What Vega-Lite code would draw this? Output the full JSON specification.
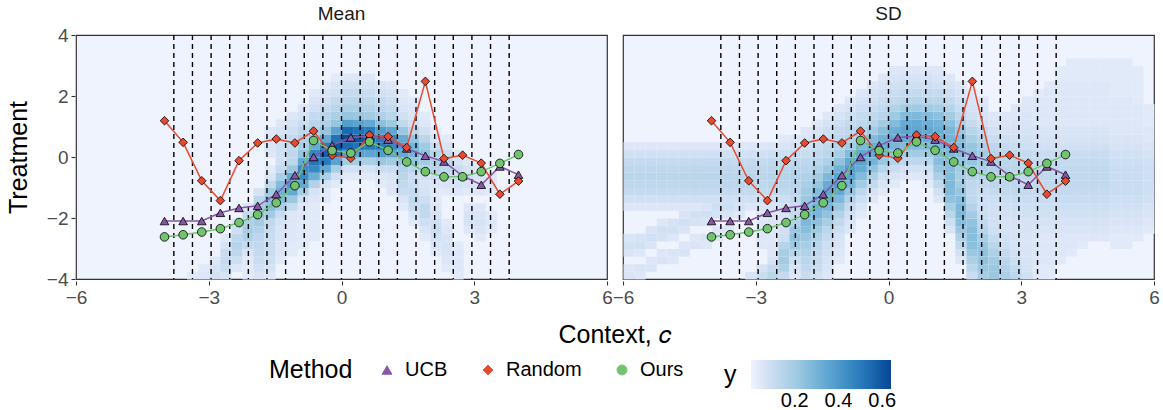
{
"$schema":"https://vega.github.io/schema/vega-lite/v6.json",
"padding":{"left":6,"top":5,"right":2,"bottom":0},
"config":{
"font":"Liberation Sans",
"view":{"fill":"#eef3fe","stroke":"#333333","strokeWidth":1.2},
"axis":{"grid":false,"domain":false,"ticks":true,"tickColor":"#333333","tickSize":4,"tickWidth":1.1,"labelFontSize":19,"labelColor":"#4D4D4D","labelPadding":3,"labelFlush":false,"labelOverlap":false,"labelBound":false,"titleFontSize":25,"titleFontWeight":"normal","titleColor":"black","format":"d"},
"legend":{"orient":"bottom","direction":"horizontal","titleOrient":"left","titleFontSize":25,"titleFontWeight":"normal","titleColor":"black","labelFontSize":20,"labelColor":"black","offset":12,"layout":{"bottom":{"anchor":"middle","direction":"horizontal","margin":40}}}
},
"data":{"values":[
{"p":"Mean","m":"UCB","x":-4,"y":-2.1},{"p":"Mean","m":"UCB","x":-3.579,"y":-2.1},{"p":"Mean","m":"UCB","x":-3.158,"y":-2.1},{"p":"Mean","m":"UCB","x":-2.737,"y":-1.83},{"p":"Mean","m":"UCB","x":-2.316,"y":-1.67},{"p":"Mean","m":"UCB","x":-1.895,"y":-1.6},{"p":"Mean","m":"UCB","x":-1.474,"y":-1.22},{"p":"Mean","m":"UCB","x":-1.053,"y":-0.6},{"p":"Mean","m":"UCB","x":-0.632,"y":0.0},{"p":"Mean","m":"UCB","x":-0.211,"y":0.38},{"p":"Mean","m":"UCB","x":0.211,"y":0.64},{"p":"Mean","m":"UCB","x":0.632,"y":0.68},{"p":"Mean","m":"UCB","x":1.053,"y":0.57},{"p":"Mean","m":"UCB","x":1.474,"y":0.28},{"p":"Mean","m":"UCB","x":1.895,"y":0.04},{"p":"Mean","m":"UCB","x":2.316,"y":-0.15},{"p":"Mean","m":"UCB","x":2.737,"y":-0.62},{"p":"Mean","m":"UCB","x":3.158,"y":-0.91},{"p":"Mean","m":"UCB","x":3.579,"y":-0.31},{"p":"Mean","m":"UCB","x":4,"y":-0.58},
{"p":"Mean","m":"Random","x":-4,"y":1.19},{"p":"Mean","m":"Random","x":-3.579,"y":0.48},{"p":"Mean","m":"Random","x":-3.158,"y":-0.78},{"p":"Mean","m":"Random","x":-2.737,"y":-1.43},{"p":"Mean","m":"Random","x":-2.316,"y":-0.12},{"p":"Mean","m":"Random","x":-1.895,"y":0.46},{"p":"Mean","m":"Random","x":-1.474,"y":0.59},{"p":"Mean","m":"Random","x":-1.053,"y":0.46},{"p":"Mean","m":"Random","x":-0.632,"y":0.85},{"p":"Mean","m":"Random","x":-0.211,"y":0.06},{"p":"Mean","m":"Random","x":0.211,"y":-0.04},{"p":"Mean","m":"Random","x":0.632,"y":0.72},{"p":"Mean","m":"Random","x":1.053,"y":0.67},{"p":"Mean","m":"Random","x":1.474,"y":0.31},{"p":"Mean","m":"Random","x":1.895,"y":2.48},{"p":"Mean","m":"Random","x":2.316,"y":-0.05},{"p":"Mean","m":"Random","x":2.737,"y":0.06},{"p":"Mean","m":"Random","x":3.158,"y":-0.2},{"p":"Mean","m":"Random","x":3.579,"y":-1.22},{"p":"Mean","m":"Random","x":4,"y":-0.79},
{"p":"Mean","m":"Ours","x":-4,"y":-2.62},{"p":"Mean","m":"Ours","x":-3.579,"y":-2.55},{"p":"Mean","m":"Ours","x":-3.158,"y":-2.46},{"p":"Mean","m":"Ours","x":-2.737,"y":-2.35},{"p":"Mean","m":"Ours","x":-2.316,"y":-2.15},{"p":"Mean","m":"Ours","x":-1.895,"y":-1.89},{"p":"Mean","m":"Ours","x":-1.474,"y":-1.5},{"p":"Mean","m":"Ours","x":-1.053,"y":-0.94},{"p":"Mean","m":"Ours","x":-0.632,"y":0.54},{"p":"Mean","m":"Ours","x":-0.211,"y":0.21},{"p":"Mean","m":"Ours","x":0.211,"y":0.13},{"p":"Mean","m":"Ours","x":0.632,"y":0.5},{"p":"Mean","m":"Ours","x":1.053,"y":0.22},{"p":"Mean","m":"Ours","x":1.474,"y":-0.16},{"p":"Mean","m":"Ours","x":1.895,"y":-0.48},{"p":"Mean","m":"Ours","x":2.316,"y":-0.65},{"p":"Mean","m":"Ours","x":2.737,"y":-0.65},{"p":"Mean","m":"Ours","x":3.158,"y":-0.48},{"p":"Mean","m":"Ours","x":3.579,"y":-0.21},{"p":"Mean","m":"Ours","x":4,"y":0.08},
{"p":"SD","m":"UCB","x":-4,"y":-2.1},{"p":"SD","m":"UCB","x":-3.579,"y":-2.1},{"p":"SD","m":"UCB","x":-3.158,"y":-2.1},{"p":"SD","m":"UCB","x":-2.737,"y":-1.83},{"p":"SD","m":"UCB","x":-2.316,"y":-1.67},{"p":"SD","m":"UCB","x":-1.895,"y":-1.6},{"p":"SD","m":"UCB","x":-1.474,"y":-1.22},{"p":"SD","m":"UCB","x":-1.053,"y":-0.6},{"p":"SD","m":"UCB","x":-0.632,"y":0.0},{"p":"SD","m":"UCB","x":-0.211,"y":0.38},{"p":"SD","m":"UCB","x":0.211,"y":0.64},{"p":"SD","m":"UCB","x":0.632,"y":0.68},{"p":"SD","m":"UCB","x":1.053,"y":0.57},{"p":"SD","m":"UCB","x":1.474,"y":0.28},{"p":"SD","m":"UCB","x":1.895,"y":0.04},{"p":"SD","m":"UCB","x":2.316,"y":-0.15},{"p":"SD","m":"UCB","x":2.737,"y":-0.62},{"p":"SD","m":"UCB","x":3.158,"y":-0.91},{"p":"SD","m":"UCB","x":3.579,"y":-0.31},{"p":"SD","m":"UCB","x":4,"y":-0.58},
{"p":"SD","m":"Random","x":-4,"y":1.19},{"p":"SD","m":"Random","x":-3.579,"y":0.48},{"p":"SD","m":"Random","x":-3.158,"y":-0.78},{"p":"SD","m":"Random","x":-2.737,"y":-1.43},{"p":"SD","m":"Random","x":-2.316,"y":-0.12},{"p":"SD","m":"Random","x":-1.895,"y":0.46},{"p":"SD","m":"Random","x":-1.474,"y":0.59},{"p":"SD","m":"Random","x":-1.053,"y":0.46},{"p":"SD","m":"Random","x":-0.632,"y":0.85},{"p":"SD","m":"Random","x":-0.211,"y":0.06},{"p":"SD","m":"Random","x":0.211,"y":-0.04},{"p":"SD","m":"Random","x":0.632,"y":0.72},{"p":"SD","m":"Random","x":1.053,"y":0.67},{"p":"SD","m":"Random","x":1.474,"y":0.31},{"p":"SD","m":"Random","x":1.895,"y":2.48},{"p":"SD","m":"Random","x":2.316,"y":-0.05},{"p":"SD","m":"Random","x":2.737,"y":0.06},{"p":"SD","m":"Random","x":3.158,"y":-0.2},{"p":"SD","m":"Random","x":3.579,"y":-1.22},{"p":"SD","m":"Random","x":4,"y":-0.79},
{"p":"SD","m":"Ours","x":-4,"y":-2.62},{"p":"SD","m":"Ours","x":-3.579,"y":-2.55},{"p":"SD","m":"Ours","x":-3.158,"y":-2.46},{"p":"SD","m":"Ours","x":-2.737,"y":-2.35},{"p":"SD","m":"Ours","x":-2.316,"y":-2.15},{"p":"SD","m":"Ours","x":-1.895,"y":-1.89},{"p":"SD","m":"Ours","x":-1.474,"y":-1.5},{"p":"SD","m":"Ours","x":-1.053,"y":-0.94},{"p":"SD","m":"Ours","x":-0.632,"y":0.54},{"p":"SD","m":"Ours","x":-0.211,"y":0.21},{"p":"SD","m":"Ours","x":0.211,"y":0.13},{"p":"SD","m":"Ours","x":0.632,"y":0.5},{"p":"SD","m":"Ours","x":1.053,"y":0.22},{"p":"SD","m":"Ours","x":1.474,"y":-0.16},{"p":"SD","m":"Ours","x":1.895,"y":-0.48},{"p":"SD","m":"Ours","x":2.316,"y":-0.65},{"p":"SD","m":"Ours","x":2.737,"y":-0.65},{"p":"SD","m":"Ours","x":3.158,"y":-0.48},{"p":"SD","m":"Ours","x":3.579,"y":-0.21},{"p":"SD","m":"Ours","x":4,"y":0.08},
{"p":"Mean","r":-3.789},{"p":"Mean","r":-3.368},{"p":"Mean","r":-2.947},{"p":"Mean","r":-2.526},{"p":"Mean","r":-2.105},{"p":"Mean","r":-1.684},{"p":"Mean","r":-1.263},{"p":"Mean","r":-0.842},{"p":"Mean","r":-0.421},{"p":"Mean","r":0},{"p":"Mean","r":0.421},{"p":"Mean","r":0.842},{"p":"Mean","r":1.263},{"p":"Mean","r":1.684},{"p":"Mean","r":2.105},{"p":"Mean","r":2.526},{"p":"Mean","r":2.947},{"p":"Mean","r":3.368},{"p":"Mean","r":3.789},
{"p":"SD","r":-3.789},{"p":"SD","r":-3.368},{"p":"SD","r":-2.947},{"p":"SD","r":-2.526},{"p":"SD","r":-2.105},{"p":"SD","r":-1.684},{"p":"SD","r":-1.263},{"p":"SD","r":-0.842},{"p":"SD","r":-0.421},{"p":"SD","r":0},{"p":"SD","r":0.421},{"p":"SD","r":0.842},{"p":"SD","r":1.263},{"p":"SD","r":1.684},{"p":"SD","r":2.105},{"p":"SD","r":2.526},{"p":"SD","r":2.947},{"p":"SD","r":3.368},{"p":"SD","r":3.789},
{"p":"Mean","x":-3.5,"t":-4,"v":0.04},
{"p":"Mean","x":-3.25,"t":-4,"v":0.05},{"p":"Mean","x":-3.25,"t":-3.75,"v":0.04},
{"p":"Mean","x":-3,"t":-4,"v":0.08},{"p":"Mean","x":-3,"t":-3.75,"v":0.07},{"p":"Mean","x":-3,"t":-3.5,"v":0.05},
{"p":"Mean","x":-2.75,"t":-4,"v":0.07},{"p":"Mean","x":-2.75,"t":-3.75,"v":0.1},{"p":"Mean","x":-2.75,"t":-3.5,"v":0.11},{"p":"Mean","x":-2.75,"t":-3.25,"v":0.1},{"p":"Mean","x":-2.75,"t":-3,"v":0.07},{"p":"Mean","x":-2.75,"t":-2.75,"v":0.04},
{"p":"Mean","x":-2.5,"t":-3.75,"v":0.05},{"p":"Mean","x":-2.5,"t":-3.5,"v":0.09},{"p":"Mean","x":-2.5,"t":-3.25,"v":0.13},{"p":"Mean","x":-2.5,"t":-3,"v":0.15},{"p":"Mean","x":-2.5,"t":-2.75,"v":0.13},{"p":"Mean","x":-2.5,"t":-2.5,"v":0.09},{"p":"Mean","x":-2.5,"t":-2.25,"v":0.05},
{"p":"Mean","x":-2.25,"t":-4,"v":0.04},{"p":"Mean","x":-2.25,"t":-3.75,"v":0.04},{"p":"Mean","x":-2.25,"t":-3.5,"v":0.04},{"p":"Mean","x":-2.25,"t":-3.25,"v":0.06},{"p":"Mean","x":-2.25,"t":-3,"v":0.11},{"p":"Mean","x":-2.25,"t":-2.75,"v":0.17},{"p":"Mean","x":-2.25,"t":-2.5,"v":0.19},{"p":"Mean","x":-2.25,"t":-2.25,"v":0.17},{"p":"Mean","x":-2.25,"t":-2,"v":0.11},{"p":"Mean","x":-2.25,"t":-1.75,"v":0.06},
{"p":"Mean","x":-2,"t":-4,"v":0.06},{"p":"Mean","x":-2,"t":-3.75,"v":0.08},{"p":"Mean","x":-2,"t":-3.5,"v":0.1},{"p":"Mean","x":-2,"t":-3.25,"v":0.11},{"p":"Mean","x":-2,"t":-3,"v":0.12},{"p":"Mean","x":-2,"t":-2.75,"v":0.13},{"p":"Mean","x":-2,"t":-2.5,"v":0.16},{"p":"Mean","x":-2,"t":-2.25,"v":0.2},{"p":"Mean","x":-2,"t":-2,"v":0.23},{"p":"Mean","x":-2,"t":-1.75,"v":0.2},{"p":"Mean","x":-2,"t":-1.5,"v":0.14},{"p":"Mean","x":-2,"t":-1.25,"v":0.07},
{"p":"Mean","x":-1.75,"t":-4,"v":0.05},{"p":"Mean","x":-1.75,"t":-3.75,"v":0.07},{"p":"Mean","x":-1.75,"t":-3.5,"v":0.09},{"p":"Mean","x":-1.75,"t":-3.25,"v":0.1},{"p":"Mean","x":-1.75,"t":-3,"v":0.1},{"p":"Mean","x":-1.75,"t":-2.75,"v":0.1},{"p":"Mean","x":-1.75,"t":-2.5,"v":0.11},{"p":"Mean","x":-1.75,"t":-2.25,"v":0.12},{"p":"Mean","x":-1.75,"t":-2,"v":0.2},{"p":"Mean","x":-1.75,"t":-1.75,"v":0.26},{"p":"Mean","x":-1.75,"t":-1.5,"v":0.26},{"p":"Mean","x":-1.75,"t":-1.25,"v":0.2},{"p":"Mean","x":-1.75,"t":-1,"v":0.12},{"p":"Mean","x":-1.75,"t":-0.75,"v":0.06},{"p":"Mean","x":-1.75,"t":-0.5,"v":0.04},{"p":"Mean","x":-1.75,"t":0,"v":0.05},{"p":"Mean","x":-1.75,"t":0.25,"v":0.06},{"p":"Mean","x":-1.75,"t":0.5,"v":0.06},{"p":"Mean","x":-1.75,"t":0.75,"v":0.05},
{"p":"Mean","x":-1.5,"t":-3.5,"v":0.04},{"p":"Mean","x":-1.5,"t":-3.25,"v":0.05},{"p":"Mean","x":-1.5,"t":-3,"v":0.05},{"p":"Mean","x":-1.5,"t":-2.75,"v":0.06},{"p":"Mean","x":-1.5,"t":-2.5,"v":0.06},{"p":"Mean","x":-1.5,"t":-2.25,"v":0.07},{"p":"Mean","x":-1.5,"t":-2,"v":0.1},{"p":"Mean","x":-1.5,"t":-1.75,"v":0.19},{"p":"Mean","x":-1.5,"t":-1.5,"v":0.27},{"p":"Mean","x":-1.5,"t":-1.25,"v":0.31},{"p":"Mean","x":-1.5,"t":-1,"v":0.27},{"p":"Mean","x":-1.5,"t":-0.75,"v":0.19},{"p":"Mean","x":-1.5,"t":-0.5,"v":0.11},{"p":"Mean","x":-1.5,"t":-0.25,"v":0.08},{"p":"Mean","x":-1.5,"t":0,"v":0.08},{"p":"Mean","x":-1.5,"t":0.25,"v":0.09},{"p":"Mean","x":-1.5,"t":0.5,"v":0.09},{"p":"Mean","x":-1.5,"t":0.75,"v":0.07},{"p":"Mean","x":-1.5,"t":1,"v":0.05},
{"p":"Mean","x":-1.25,"t":-3.25,"v":0.04},{"p":"Mean","x":-1.25,"t":-3,"v":0.04},{"p":"Mean","x":-1.25,"t":-2.75,"v":0.05},{"p":"Mean","x":-1.25,"t":-2.5,"v":0.05},{"p":"Mean","x":-1.25,"t":-2.25,"v":0.05},{"p":"Mean","x":-1.25,"t":-2,"v":0.05},{"p":"Mean","x":-1.25,"t":-1.75,"v":0.11},{"p":"Mean","x":-1.25,"t":-1.5,"v":0.22},{"p":"Mean","x":-1.25,"t":-1.25,"v":0.34},{"p":"Mean","x":-1.25,"t":-1,"v":0.4},{"p":"Mean","x":-1.25,"t":-0.75,"v":0.34},{"p":"Mean","x":-1.25,"t":-0.5,"v":0.22},{"p":"Mean","x":-1.25,"t":-0.25,"v":0.13},{"p":"Mean","x":-1.25,"t":0,"v":0.13},{"p":"Mean","x":-1.25,"t":0.25,"v":0.11},{"p":"Mean","x":-1.25,"t":0.5,"v":0.11},{"p":"Mean","x":-1.25,"t":0.75,"v":0.09},{"p":"Mean","x":-1.25,"t":1,"v":0.07},{"p":"Mean","x":-1.25,"t":1.25,"v":0.05},
{"p":"Mean","x":-1,"t":-3,"v":0.04},{"p":"Mean","x":-1,"t":-2.75,"v":0.04},{"p":"Mean","x":-1,"t":-2.5,"v":0.04},{"p":"Mean","x":-1,"t":-2.25,"v":0.04},{"p":"Mean","x":-1,"t":-2,"v":0.05},{"p":"Mean","x":-1,"t":-1.75,"v":0.05},{"p":"Mean","x":-1,"t":-1.5,"v":0.08},{"p":"Mean","x":-1,"t":-1.25,"v":0.19},{"p":"Mean","x":-1,"t":-1,"v":0.34},{"p":"Mean","x":-1,"t":-0.75,"v":0.45},{"p":"Mean","x":-1,"t":-0.5,"v":0.45},{"p":"Mean","x":-1,"t":-0.25,"v":0.34},{"p":"Mean","x":-1,"t":0,"v":0.23},{"p":"Mean","x":-1,"t":0.25,"v":0.18},{"p":"Mean","x":-1,"t":0.5,"v":0.17},{"p":"Mean","x":-1,"t":0.75,"v":0.13},{"p":"Mean","x":-1,"t":1,"v":0.1},{"p":"Mean","x":-1,"t":1.25,"v":0.07},{"p":"Mean","x":-1,"t":1.5,"v":0.05},
{"p":"Mean","x":-0.75,"t":-2.75,"v":0.04},{"p":"Mean","x":-0.75,"t":-2.5,"v":0.04},{"p":"Mean","x":-0.75,"t":-2.25,"v":0.04},{"p":"Mean","x":-0.75,"t":-2,"v":0.04},{"p":"Mean","x":-0.75,"t":-1.75,"v":0.04},{"p":"Mean","x":-0.75,"t":-1.5,"v":0.05},{"p":"Mean","x":-0.75,"t":-1.25,"v":0.07},{"p":"Mean","x":-0.75,"t":-1,"v":0.16},{"p":"Mean","x":-0.75,"t":-0.75,"v":0.32},{"p":"Mean","x":-0.75,"t":-0.5,"v":0.46},{"p":"Mean","x":-0.75,"t":-0.25,"v":0.52},{"p":"Mean","x":-0.75,"t":0,"v":0.46},{"p":"Mean","x":-0.75,"t":0.25,"v":0.33},{"p":"Mean","x":-0.75,"t":0.5,"v":0.23},{"p":"Mean","x":-0.75,"t":0.75,"v":0.18},{"p":"Mean","x":-0.75,"t":1,"v":0.14},{"p":"Mean","x":-0.75,"t":1.25,"v":0.11},{"p":"Mean","x":-0.75,"t":1.5,"v":0.08},{"p":"Mean","x":-0.75,"t":1.75,"v":0.06},{"p":"Mean","x":-0.75,"t":2,"v":0.04},
{"p":"Mean","x":-0.5,"t":-1.5,"v":0.04},{"p":"Mean","x":-0.5,"t":-1.25,"v":0.04},{"p":"Mean","x":-0.5,"t":-1,"v":0.07},{"p":"Mean","x":-0.5,"t":-0.75,"v":0.18},{"p":"Mean","x":-0.5,"t":-0.5,"v":0.35},{"p":"Mean","x":-0.5,"t":-0.25,"v":0.5},{"p":"Mean","x":-0.5,"t":0,"v":0.57},{"p":"Mean","x":-0.5,"t":0.25,"v":0.5},{"p":"Mean","x":-0.5,"t":0.5,"v":0.34},{"p":"Mean","x":-0.5,"t":0.75,"v":0.23},{"p":"Mean","x":-0.5,"t":1,"v":0.17},{"p":"Mean","x":-0.5,"t":1.25,"v":0.14},{"p":"Mean","x":-0.5,"t":1.5,"v":0.11},{"p":"Mean","x":-0.5,"t":1.75,"v":0.08},{"p":"Mean","x":-0.5,"t":2,"v":0.06},{"p":"Mean","x":-0.5,"t":2.25,"v":0.04},
{"p":"Mean","x":-0.25,"t":-1,"v":0.04},{"p":"Mean","x":-0.25,"t":-0.75,"v":0.08},{"p":"Mean","x":-0.25,"t":-0.5,"v":0.19},{"p":"Mean","x":-0.25,"t":-0.25,"v":0.36},{"p":"Mean","x":-0.25,"t":0,"v":0.53},{"p":"Mean","x":-0.25,"t":0.25,"v":0.6},{"p":"Mean","x":-0.25,"t":0.5,"v":0.53},{"p":"Mean","x":-0.25,"t":0.75,"v":0.36},{"p":"Mean","x":-0.25,"t":1,"v":0.23},{"p":"Mean","x":-0.25,"t":1.25,"v":0.18},{"p":"Mean","x":-0.25,"t":1.5,"v":0.14},{"p":"Mean","x":-0.25,"t":1.75,"v":0.11},{"p":"Mean","x":-0.25,"t":2,"v":0.08},{"p":"Mean","x":-0.25,"t":2.25,"v":0.06},{"p":"Mean","x":-0.25,"t":2.5,"v":0.04},
{"p":"Mean","x":0,"t":-0.75,"v":0.04},{"p":"Mean","x":0,"t":-0.5,"v":0.08},{"p":"Mean","x":0,"t":-0.25,"v":0.2},{"p":"Mean","x":0,"t":0,"v":0.38},{"p":"Mean","x":0,"t":0.25,"v":0.55},{"p":"Mean","x":0,"t":0.5,"v":0.63},{"p":"Mean","x":0,"t":0.75,"v":0.55},{"p":"Mean","x":0,"t":1,"v":0.38},{"p":"Mean","x":0,"t":1.25,"v":0.23},{"p":"Mean","x":0,"t":1.5,"v":0.18},{"p":"Mean","x":0,"t":1.75,"v":0.14},{"p":"Mean","x":0,"t":2,"v":0.11},{"p":"Mean","x":0,"t":2.25,"v":0.08},{"p":"Mean","x":0,"t":2.5,"v":0.05},
{"p":"Mean","x":0.25,"t":-0.75,"v":0.04},{"p":"Mean","x":0.25,"t":-0.5,"v":0.08},{"p":"Mean","x":0.25,"t":-0.25,"v":0.19},{"p":"Mean","x":0.25,"t":0,"v":0.36},{"p":"Mean","x":0.25,"t":0.25,"v":0.53},{"p":"Mean","x":0.25,"t":0.5,"v":0.6},{"p":"Mean","x":0.25,"t":0.75,"v":0.53},{"p":"Mean","x":0.25,"t":1,"v":0.36},{"p":"Mean","x":0.25,"t":1.25,"v":0.22},{"p":"Mean","x":0.25,"t":1.5,"v":0.17},{"p":"Mean","x":0.25,"t":1.75,"v":0.14},{"p":"Mean","x":0.25,"t":2,"v":0.11},{"p":"Mean","x":0.25,"t":2.25,"v":0.08},{"p":"Mean","x":0.25,"t":2.5,"v":0.05},
{"p":"Mean","x":0.5,"t":-0.75,"v":0.04},{"p":"Mean","x":0.5,"t":-0.5,"v":0.07},{"p":"Mean","x":0.5,"t":-0.25,"v":0.18},{"p":"Mean","x":0.5,"t":0,"v":0.35},{"p":"Mean","x":0.5,"t":0.25,"v":0.5},{"p":"Mean","x":0.5,"t":0.5,"v":0.57},{"p":"Mean","x":0.5,"t":0.75,"v":0.5},{"p":"Mean","x":0.5,"t":1,"v":0.34},{"p":"Mean","x":0.5,"t":1.25,"v":0.2},{"p":"Mean","x":0.5,"t":1.5,"v":0.16},{"p":"Mean","x":0.5,"t":1.75,"v":0.13},{"p":"Mean","x":0.5,"t":2,"v":0.1},{"p":"Mean","x":0.5,"t":2.25,"v":0.07},{"p":"Mean","x":0.5,"t":2.5,"v":0.05},
{"p":"Mean","x":0.75,"t":-1,"v":0.04},{"p":"Mean","x":0.75,"t":-0.75,"v":0.05},{"p":"Mean","x":0.75,"t":-0.5,"v":0.1},{"p":"Mean","x":0.75,"t":-0.25,"v":0.22},{"p":"Mean","x":0.75,"t":0,"v":0.38},{"p":"Mean","x":0.75,"t":0.25,"v":0.5},{"p":"Mean","x":0.75,"t":0.5,"v":0.5},{"p":"Mean","x":0.75,"t":0.75,"v":0.38},{"p":"Mean","x":0.75,"t":1,"v":0.25},{"p":"Mean","x":0.75,"t":1.25,"v":0.17},{"p":"Mean","x":0.75,"t":1.5,"v":0.13},{"p":"Mean","x":0.75,"t":1.75,"v":0.11},{"p":"Mean","x":0.75,"t":2,"v":0.08},{"p":"Mean","x":0.75,"t":2.25,"v":0.06},
{"p":"Mean","x":1,"t":-1.25,"v":0.05},{"p":"Mean","x":1,"t":-1,"v":0.05},{"p":"Mean","x":1,"t":-0.75,"v":0.06},{"p":"Mean","x":1,"t":-0.5,"v":0.1},{"p":"Mean","x":1,"t":-0.25,"v":0.2},{"p":"Mean","x":1,"t":0,"v":0.35},{"p":"Mean","x":1,"t":0.25,"v":0.45},{"p":"Mean","x":1,"t":0.5,"v":0.45},{"p":"Mean","x":1,"t":0.75,"v":0.35},{"p":"Mean","x":1,"t":1,"v":0.21},{"p":"Mean","x":1,"t":1.25,"v":0.14},{"p":"Mean","x":1,"t":1.5,"v":0.11},{"p":"Mean","x":1,"t":1.75,"v":0.09},{"p":"Mean","x":1,"t":2,"v":0.07},{"p":"Mean","x":1,"t":2.25,"v":0.05},
{"p":"Mean","x":1.25,"t":-1.75,"v":0.04},{"p":"Mean","x":1.25,"t":-1.5,"v":0.06},{"p":"Mean","x":1.25,"t":-1.25,"v":0.1},{"p":"Mean","x":1.25,"t":-1,"v":0.12},{"p":"Mean","x":1.25,"t":-0.75,"v":0.14},{"p":"Mean","x":1.25,"t":-0.5,"v":0.16},{"p":"Mean","x":1.25,"t":-0.25,"v":0.23},{"p":"Mean","x":1.25,"t":0,"v":0.33},{"p":"Mean","x":1.25,"t":0.25,"v":0.38},{"p":"Mean","x":1.25,"t":0.5,"v":0.33},{"p":"Mean","x":1.25,"t":0.75,"v":0.22},{"p":"Mean","x":1.25,"t":1,"v":0.12},{"p":"Mean","x":1.25,"t":1.25,"v":0.08},{"p":"Mean","x":1.25,"t":1.5,"v":0.06},{"p":"Mean","x":1.25,"t":1.75,"v":0.05},{"p":"Mean","x":1.25,"t":2,"v":0.04},
{"p":"Mean","x":1.5,"t":-2.25,"v":0.04},{"p":"Mean","x":1.5,"t":-2,"v":0.06},{"p":"Mean","x":1.5,"t":-1.75,"v":0.1},{"p":"Mean","x":1.5,"t":-1.5,"v":0.12},{"p":"Mean","x":1.5,"t":-1.25,"v":0.11},{"p":"Mean","x":1.5,"t":-1,"v":0.1},{"p":"Mean","x":1.5,"t":-0.75,"v":0.1},{"p":"Mean","x":1.5,"t":-0.5,"v":0.15},{"p":"Mean","x":1.5,"t":-0.25,"v":0.23},{"p":"Mean","x":1.5,"t":0,"v":0.3},{"p":"Mean","x":1.5,"t":0.25,"v":0.3},{"p":"Mean","x":1.5,"t":0.5,"v":0.23},{"p":"Mean","x":1.5,"t":0.75,"v":0.14},{"p":"Mean","x":1.5,"t":1,"v":0.08},{"p":"Mean","x":1.5,"t":1.25,"v":0.06},{"p":"Mean","x":1.5,"t":1.5,"v":0.05},{"p":"Mean","x":1.5,"t":1.75,"v":0.04},
{"p":"Mean","x":1.75,"t":-2.75,"v":0.04},{"p":"Mean","x":1.75,"t":-2.5,"v":0.06},{"p":"Mean","x":1.75,"t":-2.25,"v":0.09},{"p":"Mean","x":1.75,"t":-2,"v":0.12},{"p":"Mean","x":1.75,"t":-1.75,"v":0.12},{"p":"Mean","x":1.75,"t":-1.5,"v":0.09},{"p":"Mean","x":1.75,"t":-1.25,"v":0.07},{"p":"Mean","x":1.75,"t":-1,"v":0.06},{"p":"Mean","x":1.75,"t":-0.75,"v":0.08},{"p":"Mean","x":1.75,"t":-0.5,"v":0.15},{"p":"Mean","x":1.75,"t":-0.25,"v":0.2},{"p":"Mean","x":1.75,"t":0,"v":0.24},{"p":"Mean","x":1.75,"t":0.25,"v":0.21},{"p":"Mean","x":1.75,"t":0.5,"v":0.14},{"p":"Mean","x":1.75,"t":0.75,"v":0.08},{"p":"Mean","x":1.75,"t":1,"v":0.05},{"p":"Mean","x":1.75,"t":1.25,"v":0.04},
{"p":"Mean","x":2,"t":-3.25,"v":0.04},{"p":"Mean","x":2,"t":-3,"v":0.06},{"p":"Mean","x":2,"t":-2.75,"v":0.08},{"p":"Mean","x":2,"t":-2.5,"v":0.1},{"p":"Mean","x":2,"t":-2.25,"v":0.09},{"p":"Mean","x":2,"t":-2,"v":0.07},{"p":"Mean","x":2,"t":-1.75,"v":0.05},{"p":"Mean","x":2,"t":-1.5,"v":0.04},{"p":"Mean","x":2,"t":-1.25,"v":0.04},{"p":"Mean","x":2,"t":-1,"v":0.06},{"p":"Mean","x":2,"t":-0.75,"v":0.1},{"p":"Mean","x":2,"t":-0.5,"v":0.15},{"p":"Mean","x":2,"t":-0.25,"v":0.17},{"p":"Mean","x":2,"t":0,"v":0.15},{"p":"Mean","x":2,"t":0.25,"v":0.1},{"p":"Mean","x":2,"t":0.5,"v":0.06},{"p":"Mean","x":2,"t":0.75,"v":0.04},
{"p":"Mean","x":2.25,"t":-3.75,"v":0.04},{"p":"Mean","x":2.25,"t":-3.5,"v":0.05},{"p":"Mean","x":2.25,"t":-3.25,"v":0.06},{"p":"Mean","x":2.25,"t":-3,"v":0.07},{"p":"Mean","x":2.25,"t":-2.75,"v":0.06},{"p":"Mean","x":2.25,"t":-2.5,"v":0.05},{"p":"Mean","x":2.25,"t":-2.25,"v":0.04},{"p":"Mean","x":2.25,"t":-1.25,"v":0.04},{"p":"Mean","x":2.25,"t":-1,"v":0.06},{"p":"Mean","x":2.25,"t":-0.75,"v":0.1},{"p":"Mean","x":2.25,"t":-0.5,"v":0.13},{"p":"Mean","x":2.25,"t":-0.25,"v":0.13},{"p":"Mean","x":2.25,"t":0,"v":0.1},{"p":"Mean","x":2.25,"t":0.25,"v":0.06},{"p":"Mean","x":2.25,"t":0.5,"v":0.04},
{"p":"Mean","x":2.5,"t":-4,"v":0.04},{"p":"Mean","x":2.5,"t":-3.75,"v":0.05},{"p":"Mean","x":2.5,"t":-3.5,"v":0.05},{"p":"Mean","x":2.5,"t":-3.25,"v":0.05},{"p":"Mean","x":2.5,"t":-3,"v":0.04},{"p":"Mean","x":2.5,"t":-1.25,"v":0.05},{"p":"Mean","x":2.5,"t":-1,"v":0.07},{"p":"Mean","x":2.5,"t":-0.75,"v":0.1},{"p":"Mean","x":2.5,"t":-0.5,"v":0.1},{"p":"Mean","x":2.5,"t":-0.25,"v":0.07},{"p":"Mean","x":2.5,"t":0,"v":0.05},
{"p":"Mean","x":2.75,"t":-2.5,"v":0.05},{"p":"Mean","x":2.75,"t":-2.25,"v":0.07},{"p":"Mean","x":2.75,"t":-2,"v":0.07},{"p":"Mean","x":2.75,"t":-1.75,"v":0.05},{"p":"Mean","x":2.75,"t":-1.25,"v":0.04},{"p":"Mean","x":2.75,"t":-1,"v":0.06},{"p":"Mean","x":2.75,"t":-0.75,"v":0.08},{"p":"Mean","x":2.75,"t":-0.5,"v":0.07},{"p":"Mean","x":2.75,"t":-0.25,"v":0.05},
{"p":"Mean","x":3,"t":-2.75,"v":0.04},{"p":"Mean","x":3,"t":-2.5,"v":0.06},{"p":"Mean","x":3,"t":-2.25,"v":0.07},{"p":"Mean","x":3,"t":-2,"v":0.06},{"p":"Mean","x":3,"t":-1.75,"v":0.05},{"p":"Mean","x":3,"t":-1.25,"v":0.05},{"p":"Mean","x":3,"t":-1,"v":0.06},{"p":"Mean","x":3,"t":-0.75,"v":0.06},{"p":"Mean","x":3,"t":-0.5,"v":0.05},
{"p":"Mean","x":3.25,"t":-2.5,"v":0.04},{"p":"Mean","x":3.25,"t":-2.25,"v":0.05},{"p":"Mean","x":3.25,"t":-2,"v":0.04},{"p":"Mean","x":3.25,"t":-1.25,"v":0.04},{"p":"Mean","x":3.25,"t":-1,"v":0.05},{"p":"Mean","x":3.25,"t":-0.75,"v":0.05},
{"p":"SD","x":-6,"t":-4,"v":0.06},{"p":"SD","x":-6,"t":-3.75,"v":0.05},{"p":"SD","x":-6,"t":-3.25,"v":0.06},{"p":"SD","x":-6,"t":-3,"v":0.08},{"p":"SD","x":-6,"t":-2.75,"v":0.06},{"p":"SD","x":-6,"t":-1.75,"v":0.05},{"p":"SD","x":-6,"t":-1.5,"v":0.08},{"p":"SD","x":-6,"t":-1.25,"v":0.11},{"p":"SD","x":-6,"t":-1,"v":0.13},{"p":"SD","x":-6,"t":-0.75,"v":0.14},{"p":"SD","x":-6,"t":-0.5,"v":0.13},{"p":"SD","x":-6,"t":-0.25,"v":0.11},{"p":"SD","x":-6,"t":0,"v":0.08},{"p":"SD","x":-6,"t":0.25,"v":0.05},
{"p":"SD","x":-5.75,"t":-4,"v":0.05},{"p":"SD","x":-5.75,"t":-3.75,"v":0.06},{"p":"SD","x":-5.75,"t":-3.25,"v":0.05},{"p":"SD","x":-5.75,"t":-3,"v":0.08},{"p":"SD","x":-5.75,"t":-2.75,"v":0.07},{"p":"SD","x":-5.75,"t":-1.75,"v":0.05},{"p":"SD","x":-5.75,"t":-1.5,"v":0.08},{"p":"SD","x":-5.75,"t":-1.25,"v":0.11},{"p":"SD","x":-5.75,"t":-1,"v":0.13},{"p":"SD","x":-5.75,"t":-0.75,"v":0.14},{"p":"SD","x":-5.75,"t":-0.5,"v":0.13},{"p":"SD","x":-5.75,"t":-0.25,"v":0.11},{"p":"SD","x":-5.75,"t":0,"v":0.08},{"p":"SD","x":-5.75,"t":0.25,"v":0.05},
{"p":"SD","x":-5.5,"t":-3.75,"v":0.06},{"p":"SD","x":-5.5,"t":-3.5,"v":0.05},{"p":"SD","x":-5.5,"t":-3,"v":0.06},{"p":"SD","x":-5.5,"t":-2.75,"v":0.08},{"p":"SD","x":-5.5,"t":-2.5,"v":0.06},{"p":"SD","x":-5.5,"t":-1.75,"v":0.05},{"p":"SD","x":-5.5,"t":-1.5,"v":0.08},{"p":"SD","x":-5.5,"t":-1.25,"v":0.11},{"p":"SD","x":-5.5,"t":-1,"v":0.13},{"p":"SD","x":-5.5,"t":-0.75,"v":0.14},{"p":"SD","x":-5.5,"t":-0.5,"v":0.13},{"p":"SD","x":-5.5,"t":-0.25,"v":0.11},{"p":"SD","x":-5.5,"t":0,"v":0.08},{"p":"SD","x":-5.5,"t":0.25,"v":0.05},
{"p":"SD","x":-5.25,"t":-3.5,"v":0.06},{"p":"SD","x":-5.25,"t":-3.25,"v":0.05},{"p":"SD","x":-5.25,"t":-2.75,"v":0.07},{"p":"SD","x":-5.25,"t":-2.5,"v":0.08},{"p":"SD","x":-5.25,"t":-2.25,"v":0.05},{"p":"SD","x":-5.25,"t":-1.75,"v":0.05},{"p":"SD","x":-5.25,"t":-1.5,"v":0.08},{"p":"SD","x":-5.25,"t":-1.25,"v":0.11},{"p":"SD","x":-5.25,"t":-1,"v":0.13},{"p":"SD","x":-5.25,"t":-0.75,"v":0.14},{"p":"SD","x":-5.25,"t":-0.5,"v":0.13},{"p":"SD","x":-5.25,"t":-0.25,"v":0.11},{"p":"SD","x":-5.25,"t":0,"v":0.08},{"p":"SD","x":-5.25,"t":0.25,"v":0.05},
{"p":"SD","x":-5,"t":-3.5,"v":0.05},{"p":"SD","x":-5,"t":-3.25,"v":0.06},{"p":"SD","x":-5,"t":-2.75,"v":0.05},{"p":"SD","x":-5,"t":-2.5,"v":0.08},{"p":"SD","x":-5,"t":-2.25,"v":0.07},{"p":"SD","x":-5,"t":-1.75,"v":0.05},{"p":"SD","x":-5,"t":-1.5,"v":0.08},{"p":"SD","x":-5,"t":-1.25,"v":0.11},{"p":"SD","x":-5,"t":-1,"v":0.13},{"p":"SD","x":-5,"t":-0.75,"v":0.14},{"p":"SD","x":-5,"t":-0.5,"v":0.13},{"p":"SD","x":-5,"t":-0.25,"v":0.11},{"p":"SD","x":-5,"t":0,"v":0.08},{"p":"SD","x":-5,"t":0.25,"v":0.05},
{"p":"SD","x":-4.75,"t":-3.25,"v":0.06},{"p":"SD","x":-4.75,"t":-3,"v":0.05},{"p":"SD","x":-4.75,"t":-2.5,"v":0.06},{"p":"SD","x":-4.75,"t":-2.25,"v":0.08},{"p":"SD","x":-4.75,"t":-2,"v":0.06},{"p":"SD","x":-4.75,"t":-1.75,"v":0.05},{"p":"SD","x":-4.75,"t":-1.5,"v":0.08},{"p":"SD","x":-4.75,"t":-1.25,"v":0.11},{"p":"SD","x":-4.75,"t":-1,"v":0.13},{"p":"SD","x":-4.75,"t":-0.75,"v":0.14},{"p":"SD","x":-4.75,"t":-0.5,"v":0.13},{"p":"SD","x":-4.75,"t":-0.25,"v":0.11},{"p":"SD","x":-4.75,"t":0,"v":0.08},{"p":"SD","x":-4.75,"t":0.25,"v":0.05},
{"p":"SD","x":-4.5,"t":-3,"v":0.06},{"p":"SD","x":-4.5,"t":-2.75,"v":0.05},{"p":"SD","x":-4.5,"t":-2.25,"v":0.07},{"p":"SD","x":-4.5,"t":-2,"v":0.08},{"p":"SD","x":-4.5,"t":-1.75,"v":0.05},{"p":"SD","x":-4.5,"t":-1.5,"v":0.08},{"p":"SD","x":-4.5,"t":-1.25,"v":0.11},{"p":"SD","x":-4.5,"t":-1,"v":0.13},{"p":"SD","x":-4.5,"t":-0.75,"v":0.14},{"p":"SD","x":-4.5,"t":-0.5,"v":0.13},{"p":"SD","x":-4.5,"t":-0.25,"v":0.11},{"p":"SD","x":-4.5,"t":0,"v":0.08},{"p":"SD","x":-4.5,"t":0.25,"v":0.05},
{"p":"SD","x":-4.25,"t":-3,"v":0.05},{"p":"SD","x":-4.25,"t":-2.75,"v":0.06},{"p":"SD","x":-4.25,"t":-2.25,"v":0.06},{"p":"SD","x":-4.25,"t":-2,"v":0.08},{"p":"SD","x":-4.25,"t":-1.75,"v":0.06},{"p":"SD","x":-4.25,"t":-1.5,"v":0.08},{"p":"SD","x":-4.25,"t":-1.25,"v":0.11},{"p":"SD","x":-4.25,"t":-1,"v":0.13},{"p":"SD","x":-4.25,"t":-0.75,"v":0.14},{"p":"SD","x":-4.25,"t":-0.5,"v":0.13},{"p":"SD","x":-4.25,"t":-0.25,"v":0.11},{"p":"SD","x":-4.25,"t":0,"v":0.08},{"p":"SD","x":-4.25,"t":0.25,"v":0.05},
{"p":"SD","x":-4,"t":-2.75,"v":0.05},{"p":"SD","x":-4,"t":-2.5,"v":0.05},{"p":"SD","x":-4,"t":-2,"v":0.07},{"p":"SD","x":-4,"t":-1.75,"v":0.09},{"p":"SD","x":-4,"t":-1.5,"v":0.08},{"p":"SD","x":-4,"t":-1.25,"v":0.11},{"p":"SD","x":-4,"t":-1,"v":0.13},{"p":"SD","x":-4,"t":-0.75,"v":0.14},{"p":"SD","x":-4,"t":-0.5,"v":0.13},{"p":"SD","x":-4,"t":-0.25,"v":0.11},{"p":"SD","x":-4,"t":0,"v":0.08},{"p":"SD","x":-4,"t":0.25,"v":0.05},
{"p":"SD","x":-3.75,"t":-2.5,"v":0.05},{"p":"SD","x":-3.75,"t":-2,"v":0.06},{"p":"SD","x":-3.75,"t":-1.75,"v":0.09},{"p":"SD","x":-3.75,"t":-1.5,"v":0.08},{"p":"SD","x":-3.75,"t":-1.25,"v":0.11},{"p":"SD","x":-3.75,"t":-1,"v":0.13},{"p":"SD","x":-3.75,"t":-0.75,"v":0.14},{"p":"SD","x":-3.75,"t":-0.5,"v":0.13},{"p":"SD","x":-3.75,"t":-0.25,"v":0.11},{"p":"SD","x":-3.75,"t":0,"v":0.08},{"p":"SD","x":-3.75,"t":0.25,"v":0.05},
{"p":"SD","x":-3.5,"t":-2,"v":0.05},{"p":"SD","x":-3.5,"t":-1.75,"v":0.07},{"p":"SD","x":-3.5,"t":-1.5,"v":0.08},{"p":"SD","x":-3.5,"t":-1.25,"v":0.11},{"p":"SD","x":-3.5,"t":-1,"v":0.13},{"p":"SD","x":-3.5,"t":-0.75,"v":0.14},{"p":"SD","x":-3.5,"t":-0.5,"v":0.13},{"p":"SD","x":-3.5,"t":-0.25,"v":0.11},{"p":"SD","x":-3.5,"t":0,"v":0.08},{"p":"SD","x":-3.5,"t":0.25,"v":0.05},
{"p":"SD","x":-3.25,"t":-4,"v":0.06},{"p":"SD","x":-3.25,"t":-1.75,"v":0.05},{"p":"SD","x":-3.25,"t":-1.5,"v":0.08},{"p":"SD","x":-3.25,"t":-1.25,"v":0.11},{"p":"SD","x":-3.25,"t":-1,"v":0.13},{"p":"SD","x":-3.25,"t":-0.75,"v":0.14},{"p":"SD","x":-3.25,"t":-0.5,"v":0.13},{"p":"SD","x":-3.25,"t":-0.25,"v":0.11},{"p":"SD","x":-3.25,"t":0,"v":0.08},{"p":"SD","x":-3.25,"t":0.25,"v":0.05},
{"p":"SD","x":-3,"t":-4,"v":0.1},{"p":"SD","x":-3,"t":-3.75,"v":0.07},{"p":"SD","x":-3,"t":-3,"v":0.05},{"p":"SD","x":-3,"t":-2.75,"v":0.05},{"p":"SD","x":-3,"t":-2.5,"v":0.05},{"p":"SD","x":-3,"t":-2.25,"v":0.05},{"p":"SD","x":-3,"t":-2,"v":0.05},{"p":"SD","x":-3,"t":-1.75,"v":0.06},{"p":"SD","x":-3,"t":-1.5,"v":0.08},{"p":"SD","x":-3,"t":-1.25,"v":0.11},{"p":"SD","x":-3,"t":-1,"v":0.13},{"p":"SD","x":-3,"t":-0.75,"v":0.14},{"p":"SD","x":-3,"t":-0.5,"v":0.13},{"p":"SD","x":-3,"t":-0.25,"v":0.11},{"p":"SD","x":-3,"t":0,"v":0.08},{"p":"SD","x":-3,"t":0.25,"v":0.05},
{"p":"SD","x":-2.75,"t":-4,"v":0.14},{"p":"SD","x":-2.75,"t":-3.75,"v":0.11},{"p":"SD","x":-2.75,"t":-3.5,"v":0.07},{"p":"SD","x":-2.75,"t":-3.25,"v":0.05},{"p":"SD","x":-2.75,"t":-3,"v":0.05},{"p":"SD","x":-2.75,"t":-2.75,"v":0.05},{"p":"SD","x":-2.75,"t":-2.5,"v":0.05},{"p":"SD","x":-2.75,"t":-2.25,"v":0.06},{"p":"SD","x":-2.75,"t":-2,"v":0.06},{"p":"SD","x":-2.75,"t":-1.75,"v":0.07},{"p":"SD","x":-2.75,"t":-1.5,"v":0.09},{"p":"SD","x":-2.75,"t":-1.25,"v":0.12},{"p":"SD","x":-2.75,"t":-1,"v":0.14},{"p":"SD","x":-2.75,"t":-0.75,"v":0.15},{"p":"SD","x":-2.75,"t":-0.5,"v":0.14},{"p":"SD","x":-2.75,"t":-0.25,"v":0.12},{"p":"SD","x":-2.75,"t":0,"v":0.09},{"p":"SD","x":-2.75,"t":0.25,"v":0.06},
{"p":"SD","x":-2.5,"t":-4,"v":0.11},{"p":"SD","x":-2.5,"t":-3.75,"v":0.17},{"p":"SD","x":-2.5,"t":-3.5,"v":0.2},{"p":"SD","x":-2.5,"t":-3.25,"v":0.19},{"p":"SD","x":-2.5,"t":-3,"v":0.15},{"p":"SD","x":-2.5,"t":-2.75,"v":0.09},{"p":"SD","x":-2.5,"t":-2.5,"v":0.08},{"p":"SD","x":-2.5,"t":-2.25,"v":0.06},{"p":"SD","x":-2.5,"t":-2,"v":0.06},{"p":"SD","x":-2.5,"t":-1.75,"v":0.07},{"p":"SD","x":-2.5,"t":-1.5,"v":0.09},{"p":"SD","x":-2.5,"t":-1.25,"v":0.12},{"p":"SD","x":-2.5,"t":-1,"v":0.14},{"p":"SD","x":-2.5,"t":-0.75,"v":0.15},{"p":"SD","x":-2.5,"t":-0.5,"v":0.14},{"p":"SD","x":-2.5,"t":-0.25,"v":0.12},{"p":"SD","x":-2.5,"t":0,"v":0.09},{"p":"SD","x":-2.5,"t":0.25,"v":0.06},{"p":"SD","x":-2.5,"t":0.5,"v":0.04},
{"p":"SD","x":-2.25,"t":-4,"v":0.05},{"p":"SD","x":-2.25,"t":-3.75,"v":0.06},{"p":"SD","x":-2.25,"t":-3.5,"v":0.09},{"p":"SD","x":-2.25,"t":-3.25,"v":0.15},{"p":"SD","x":-2.25,"t":-3,"v":0.21},{"p":"SD","x":-2.25,"t":-2.75,"v":0.24},{"p":"SD","x":-2.25,"t":-2.5,"v":0.22},{"p":"SD","x":-2.25,"t":-2.25,"v":0.16},{"p":"SD","x":-2.25,"t":-2,"v":0.11},{"p":"SD","x":-2.25,"t":-1.75,"v":0.1},{"p":"SD","x":-2.25,"t":-1.5,"v":0.11},{"p":"SD","x":-2.25,"t":-1.25,"v":0.13},{"p":"SD","x":-2.25,"t":-1,"v":0.15},{"p":"SD","x":-2.25,"t":-0.75,"v":0.16},{"p":"SD","x":-2.25,"t":-0.5,"v":0.15},{"p":"SD","x":-2.25,"t":-0.25,"v":0.13},{"p":"SD","x":-2.25,"t":0,"v":0.1},{"p":"SD","x":-2.25,"t":0.25,"v":0.07},{"p":"SD","x":-2.25,"t":0.5,"v":0.05},
{"p":"SD","x":-2,"t":-4,"v":0.1},{"p":"SD","x":-2,"t":-3.75,"v":0.12},{"p":"SD","x":-2,"t":-3.5,"v":0.14},{"p":"SD","x":-2,"t":-3.25,"v":0.16},{"p":"SD","x":-2,"t":-3,"v":0.19},{"p":"SD","x":-2,"t":-2.75,"v":0.22},{"p":"SD","x":-2,"t":-2.5,"v":0.26},{"p":"SD","x":-2,"t":-2.25,"v":0.28},{"p":"SD","x":-2,"t":-2,"v":0.28},{"p":"SD","x":-2,"t":-1.75,"v":0.26},{"p":"SD","x":-2,"t":-1.5,"v":0.22},{"p":"SD","x":-2,"t":-1.25,"v":0.2},{"p":"SD","x":-2,"t":-1,"v":0.18},{"p":"SD","x":-2,"t":-0.75,"v":0.17},{"p":"SD","x":-2,"t":-0.5,"v":0.15},{"p":"SD","x":-2,"t":-0.25,"v":0.13},{"p":"SD","x":-2,"t":0,"v":0.1},{"p":"SD","x":-2,"t":0.25,"v":0.08},{"p":"SD","x":-2,"t":0.5,"v":0.06},{"p":"SD","x":-2,"t":0.75,"v":0.05},
{"p":"SD","x":-1.75,"t":-4,"v":0.08},{"p":"SD","x":-1.75,"t":-3.75,"v":0.1},{"p":"SD","x":-1.75,"t":-3.5,"v":0.11},{"p":"SD","x":-1.75,"t":-3.25,"v":0.12},{"p":"SD","x":-1.75,"t":-3,"v":0.14},{"p":"SD","x":-1.75,"t":-2.75,"v":0.17},{"p":"SD","x":-1.75,"t":-2.5,"v":0.21},{"p":"SD","x":-1.75,"t":-2.25,"v":0.25},{"p":"SD","x":-1.75,"t":-2,"v":0.29},{"p":"SD","x":-1.75,"t":-1.75,"v":0.31},{"p":"SD","x":-1.75,"t":-1.5,"v":0.3},{"p":"SD","x":-1.75,"t":-1.25,"v":0.27},{"p":"SD","x":-1.75,"t":-1,"v":0.23},{"p":"SD","x":-1.75,"t":-0.75,"v":0.2},{"p":"SD","x":-1.75,"t":-0.5,"v":0.17},{"p":"SD","x":-1.75,"t":-0.25,"v":0.14},{"p":"SD","x":-1.75,"t":0,"v":0.12},{"p":"SD","x":-1.75,"t":0.25,"v":0.1},{"p":"SD","x":-1.75,"t":0.5,"v":0.08},{"p":"SD","x":-1.75,"t":0.75,"v":0.07},{"p":"SD","x":-1.75,"t":1,"v":0.05},
{"p":"SD","x":-1.5,"t":-4,"v":0.05},{"p":"SD","x":-1.5,"t":-3.75,"v":0.06},{"p":"SD","x":-1.5,"t":-3.5,"v":0.07},{"p":"SD","x":-1.5,"t":-3.25,"v":0.08},{"p":"SD","x":-1.5,"t":-3,"v":0.09},{"p":"SD","x":-1.5,"t":-2.75,"v":0.11},{"p":"SD","x":-1.5,"t":-2.5,"v":0.14},{"p":"SD","x":-1.5,"t":-2.25,"v":0.19},{"p":"SD","x":-1.5,"t":-2,"v":0.24},{"p":"SD","x":-1.5,"t":-1.75,"v":0.29},{"p":"SD","x":-1.5,"t":-1.5,"v":0.33},{"p":"SD","x":-1.5,"t":-1.25,"v":0.35},{"p":"SD","x":-1.5,"t":-1,"v":0.33},{"p":"SD","x":-1.5,"t":-0.75,"v":0.28},{"p":"SD","x":-1.5,"t":-0.5,"v":0.22},{"p":"SD","x":-1.5,"t":-0.25,"v":0.17},{"p":"SD","x":-1.5,"t":0,"v":0.14},{"p":"SD","x":-1.5,"t":0.25,"v":0.12},{"p":"SD","x":-1.5,"t":0.5,"v":0.1},{"p":"SD","x":-1.5,"t":0.75,"v":0.09},{"p":"SD","x":-1.5,"t":1,"v":0.07},{"p":"SD","x":-1.5,"t":1.25,"v":0.05},
{"p":"SD","x":-1.25,"t":-3.5,"v":0.04},{"p":"SD","x":-1.25,"t":-3.25,"v":0.05},{"p":"SD","x":-1.25,"t":-3,"v":0.06},{"p":"SD","x":-1.25,"t":-2.75,"v":0.07},{"p":"SD","x":-1.25,"t":-2.5,"v":0.09},{"p":"SD","x":-1.25,"t":-2.25,"v":0.12},{"p":"SD","x":-1.25,"t":-2,"v":0.16},{"p":"SD","x":-1.25,"t":-1.75,"v":0.22},{"p":"SD","x":-1.25,"t":-1.5,"v":0.28},{"p":"SD","x":-1.25,"t":-1.25,"v":0.34},{"p":"SD","x":-1.25,"t":-1,"v":0.38},{"p":"SD","x":-1.25,"t":-0.75,"v":0.36},{"p":"SD","x":-1.25,"t":-0.5,"v":0.31},{"p":"SD","x":-1.25,"t":-0.25,"v":0.24},{"p":"SD","x":-1.25,"t":0,"v":0.18},{"p":"SD","x":-1.25,"t":0.25,"v":0.15},{"p":"SD","x":-1.25,"t":0.5,"v":0.13},{"p":"SD","x":-1.25,"t":0.75,"v":0.11},{"p":"SD","x":-1.25,"t":1,"v":0.09},{"p":"SD","x":-1.25,"t":1.25,"v":0.07},{"p":"SD","x":-1.25,"t":1.5,"v":0.05},
{"p":"SD","x":-1,"t":-2.5,"v":0.05},{"p":"SD","x":-1,"t":-2.25,"v":0.06},{"p":"SD","x":-1,"t":-2,"v":0.08},{"p":"SD","x":-1,"t":-1.75,"v":0.11},{"p":"SD","x":-1,"t":-1.5,"v":0.16},{"p":"SD","x":-1,"t":-1.25,"v":0.23},{"p":"SD","x":-1,"t":-1,"v":0.3},{"p":"SD","x":-1,"t":-0.75,"v":0.36},{"p":"SD","x":-1,"t":-0.5,"v":0.38},{"p":"SD","x":-1,"t":-0.25,"v":0.34},{"p":"SD","x":-1,"t":0,"v":0.27},{"p":"SD","x":-1,"t":0.25,"v":0.2},{"p":"SD","x":-1,"t":0.5,"v":0.16},{"p":"SD","x":-1,"t":0.75,"v":0.13},{"p":"SD","x":-1,"t":1,"v":0.11},{"p":"SD","x":-1,"t":1.25,"v":0.09},{"p":"SD","x":-1,"t":1.5,"v":0.07},{"p":"SD","x":-1,"t":1.75,"v":0.05},
{"p":"SD","x":-0.75,"t":-2,"v":0.04},{"p":"SD","x":-0.75,"t":-1.75,"v":0.06},{"p":"SD","x":-0.75,"t":-1.5,"v":0.09},{"p":"SD","x":-0.75,"t":-1.25,"v":0.13},{"p":"SD","x":-0.75,"t":-1,"v":0.2},{"p":"SD","x":-0.75,"t":-0.75,"v":0.27},{"p":"SD","x":-0.75,"t":-0.5,"v":0.33},{"p":"SD","x":-0.75,"t":-0.25,"v":0.36},{"p":"SD","x":-0.75,"t":0,"v":0.34},{"p":"SD","x":-0.75,"t":0.25,"v":0.28},{"p":"SD","x":-0.75,"t":0.5,"v":0.21},{"p":"SD","x":-0.75,"t":0.75,"v":0.16},{"p":"SD","x":-0.75,"t":1,"v":0.13},{"p":"SD","x":-0.75,"t":1.25,"v":0.11},{"p":"SD","x":-0.75,"t":1.5,"v":0.09},{"p":"SD","x":-0.75,"t":1.75,"v":0.07},{"p":"SD","x":-0.75,"t":2,"v":0.05},
{"p":"SD","x":-0.5,"t":-1.5,"v":0.05},{"p":"SD","x":-0.5,"t":-1.25,"v":0.07},{"p":"SD","x":-0.5,"t":-1,"v":0.11},{"p":"SD","x":-0.5,"t":-0.75,"v":0.17},{"p":"SD","x":-0.5,"t":-0.5,"v":0.24},{"p":"SD","x":-0.5,"t":-0.25,"v":0.3},{"p":"SD","x":-0.5,"t":0,"v":0.33},{"p":"SD","x":-0.5,"t":0.25,"v":0.32},{"p":"SD","x":-0.5,"t":0.5,"v":0.27},{"p":"SD","x":-0.5,"t":0.75,"v":0.2},{"p":"SD","x":-0.5,"t":1,"v":0.15},{"p":"SD","x":-0.5,"t":1.25,"v":0.12},{"p":"SD","x":-0.5,"t":1.5,"v":0.1},{"p":"SD","x":-0.5,"t":1.75,"v":0.08},{"p":"SD","x":-0.5,"t":2,"v":0.07},{"p":"SD","x":-0.5,"t":2.25,"v":0.05},
{"p":"SD","x":-0.25,"t":-1.25,"v":0.04},{"p":"SD","x":-0.25,"t":-1,"v":0.06},{"p":"SD","x":-0.25,"t":-0.75,"v":0.09},{"p":"SD","x":-0.25,"t":-0.5,"v":0.15},{"p":"SD","x":-0.25,"t":-0.25,"v":0.22},{"p":"SD","x":-0.25,"t":0,"v":0.28},{"p":"SD","x":-0.25,"t":0.25,"v":0.32},{"p":"SD","x":-0.25,"t":0.5,"v":0.31},{"p":"SD","x":-0.25,"t":0.75,"v":0.26},{"p":"SD","x":-0.25,"t":1,"v":0.2},{"p":"SD","x":-0.25,"t":1.25,"v":0.15},{"p":"SD","x":-0.25,"t":1.5,"v":0.12},{"p":"SD","x":-0.25,"t":1.75,"v":0.1},{"p":"SD","x":-0.25,"t":2,"v":0.08},{"p":"SD","x":-0.25,"t":2.25,"v":0.06},{"p":"SD","x":-0.25,"t":2.5,"v":0.05},
{"p":"SD","x":0,"t":-1,"v":0.04},{"p":"SD","x":0,"t":-0.75,"v":0.06},{"p":"SD","x":0,"t":-0.5,"v":0.1},{"p":"SD","x":0,"t":-0.25,"v":0.16},{"p":"SD","x":0,"t":0,"v":0.23},{"p":"SD","x":0,"t":0.25,"v":0.29},{"p":"SD","x":0,"t":0.5,"v":0.33},{"p":"SD","x":0,"t":0.75,"v":0.32},{"p":"SD","x":0,"t":1,"v":0.27},{"p":"SD","x":0,"t":1.25,"v":0.21},{"p":"SD","x":0,"t":1.5,"v":0.16},{"p":"SD","x":0,"t":1.75,"v":0.12},{"p":"SD","x":0,"t":2,"v":0.1},{"p":"SD","x":0,"t":2.25,"v":0.08},{"p":"SD","x":0,"t":2.5,"v":0.06},{"p":"SD","x":0,"t":2.75,"v":0.05},
{"p":"SD","x":0.25,"t":-0.75,"v":0.05},{"p":"SD","x":0.25,"t":-0.5,"v":0.08},{"p":"SD","x":0.25,"t":-0.25,"v":0.13},{"p":"SD","x":0.25,"t":0,"v":0.2},{"p":"SD","x":0.25,"t":0.25,"v":0.27},{"p":"SD","x":0.25,"t":0.5,"v":0.33},{"p":"SD","x":0.25,"t":0.75,"v":0.35},{"p":"SD","x":0.25,"t":1,"v":0.33},{"p":"SD","x":0.25,"t":1.25,"v":0.27},{"p":"SD","x":0.25,"t":1.5,"v":0.2},{"p":"SD","x":0.25,"t":1.75,"v":0.14},{"p":"SD","x":0.25,"t":2,"v":0.11},{"p":"SD","x":0.25,"t":2.25,"v":0.09},{"p":"SD","x":0.25,"t":2.5,"v":0.07},{"p":"SD","x":0.25,"t":2.75,"v":0.05},
{"p":"SD","x":0.5,"t":-0.75,"v":0.05},{"p":"SD","x":0.5,"t":-0.5,"v":0.08},{"p":"SD","x":0.5,"t":-0.25,"v":0.13},{"p":"SD","x":0.5,"t":0,"v":0.2},{"p":"SD","x":0.5,"t":0.25,"v":0.27},{"p":"SD","x":0.5,"t":0.5,"v":0.33},{"p":"SD","x":0.5,"t":0.75,"v":0.35},{"p":"SD","x":0.5,"t":1,"v":0.34},{"p":"SD","x":0.5,"t":1.25,"v":0.28},{"p":"SD","x":0.5,"t":1.5,"v":0.21},{"p":"SD","x":0.5,"t":1.75,"v":0.15},{"p":"SD","x":0.5,"t":2,"v":0.11},{"p":"SD","x":0.5,"t":2.25,"v":0.09},{"p":"SD","x":0.5,"t":2.5,"v":0.07},{"p":"SD","x":0.5,"t":2.75,"v":0.05},
{"p":"SD","x":0.75,"t":-1,"v":0.04},{"p":"SD","x":0.75,"t":-0.75,"v":0.06},{"p":"SD","x":0.75,"t":-0.5,"v":0.09},{"p":"SD","x":0.75,"t":-0.25,"v":0.14},{"p":"SD","x":0.75,"t":0,"v":0.21},{"p":"SD","x":0.75,"t":0.25,"v":0.27},{"p":"SD","x":0.75,"t":0.5,"v":0.32},{"p":"SD","x":0.75,"t":0.75,"v":0.34},{"p":"SD","x":0.75,"t":1,"v":0.32},{"p":"SD","x":0.75,"t":1.25,"v":0.27},{"p":"SD","x":0.75,"t":1.5,"v":0.2},{"p":"SD","x":0.75,"t":1.75,"v":0.14},{"p":"SD","x":0.75,"t":2,"v":0.11},{"p":"SD","x":0.75,"t":2.25,"v":0.09},{"p":"SD","x":0.75,"t":2.5,"v":0.07},{"p":"SD","x":0.75,"t":2.75,"v":0.05},
{"p":"SD","x":1,"t":-1.5,"v":0.05},{"p":"SD","x":1,"t":-1.25,"v":0.08},{"p":"SD","x":1,"t":-1,"v":0.12},{"p":"SD","x":1,"t":-0.75,"v":0.18},{"p":"SD","x":1,"t":-0.5,"v":0.23},{"p":"SD","x":1,"t":-0.25,"v":0.26},{"p":"SD","x":1,"t":0,"v":0.27},{"p":"SD","x":1,"t":0.25,"v":0.29},{"p":"SD","x":1,"t":0.5,"v":0.31},{"p":"SD","x":1,"t":0.75,"v":0.32},{"p":"SD","x":1,"t":1,"v":0.3},{"p":"SD","x":1,"t":1.25,"v":0.25},{"p":"SD","x":1,"t":1.5,"v":0.19},{"p":"SD","x":1,"t":1.75,"v":0.14},{"p":"SD","x":1,"t":2,"v":0.11},{"p":"SD","x":1,"t":2.25,"v":0.08},{"p":"SD","x":1,"t":2.5,"v":0.06},{"p":"SD","x":1,"t":2.75,"v":0.05},
{"p":"SD","x":1.25,"t":-2.5,"v":0.06},{"p":"SD","x":1.25,"t":-2.25,"v":0.09},{"p":"SD","x":1.25,"t":-2,"v":0.14},{"p":"SD","x":1.25,"t":-1.75,"v":0.19},{"p":"SD","x":1.25,"t":-1.5,"v":0.24},{"p":"SD","x":1.25,"t":-1.25,"v":0.27},{"p":"SD","x":1.25,"t":-1,"v":0.28},{"p":"SD","x":1.25,"t":-0.75,"v":0.27},{"p":"SD","x":1.25,"t":-0.5,"v":0.26},{"p":"SD","x":1.25,"t":-0.25,"v":0.26},{"p":"SD","x":1.25,"t":0,"v":0.27},{"p":"SD","x":1.25,"t":0.25,"v":0.29},{"p":"SD","x":1.25,"t":0.5,"v":0.3},{"p":"SD","x":1.25,"t":0.75,"v":0.29},{"p":"SD","x":1.25,"t":1,"v":0.25},{"p":"SD","x":1.25,"t":1.25,"v":0.2},{"p":"SD","x":1.25,"t":1.5,"v":0.15},{"p":"SD","x":1.25,"t":1.75,"v":0.11},{"p":"SD","x":1.25,"t":2,"v":0.09},{"p":"SD","x":1.25,"t":2.25,"v":0.07},{"p":"SD","x":1.25,"t":2.5,"v":0.05},
{"p":"SD","x":1.5,"t":-3.5,"v":0.05},{"p":"SD","x":1.5,"t":-3.25,"v":0.08},{"p":"SD","x":1.5,"t":-3,"v":0.12},{"p":"SD","x":1.5,"t":-2.75,"v":0.17},{"p":"SD","x":1.5,"t":-2.5,"v":0.22},{"p":"SD","x":1.5,"t":-2.25,"v":0.26},{"p":"SD","x":1.5,"t":-2,"v":0.28},{"p":"SD","x":1.5,"t":-1.75,"v":0.28},{"p":"SD","x":1.5,"t":-1.5,"v":0.26},{"p":"SD","x":1.5,"t":-1.25,"v":0.23},{"p":"SD","x":1.5,"t":-1,"v":0.2},{"p":"SD","x":1.5,"t":-0.75,"v":0.19},{"p":"SD","x":1.5,"t":-0.5,"v":0.2},{"p":"SD","x":1.5,"t":-0.25,"v":0.23},{"p":"SD","x":1.5,"t":0,"v":0.26},{"p":"SD","x":1.5,"t":0.25,"v":0.27},{"p":"SD","x":1.5,"t":0.5,"v":0.26},{"p":"SD","x":1.5,"t":0.75,"v":0.22},{"p":"SD","x":1.5,"t":1,"v":0.17},{"p":"SD","x":1.5,"t":1.25,"v":0.13},{"p":"SD","x":1.5,"t":1.5,"v":0.1},{"p":"SD","x":1.5,"t":1.75,"v":0.08},{"p":"SD","x":1.5,"t":2,"v":0.06},{"p":"SD","x":1.5,"t":2.25,"v":0.05},
{"p":"SD","x":1.75,"t":-4,"v":0.1},{"p":"SD","x":1.75,"t":-3.75,"v":0.14},{"p":"SD","x":1.75,"t":-3.5,"v":0.18},{"p":"SD","x":1.75,"t":-3.25,"v":0.22},{"p":"SD","x":1.75,"t":-3,"v":0.25},{"p":"SD","x":1.75,"t":-2.75,"v":0.26},{"p":"SD","x":1.75,"t":-2.5,"v":0.26},{"p":"SD","x":1.75,"t":-2.25,"v":0.24},{"p":"SD","x":1.75,"t":-2,"v":0.2},{"p":"SD","x":1.75,"t":-1.75,"v":0.16},{"p":"SD","x":1.75,"t":-1.5,"v":0.13},{"p":"SD","x":1.75,"t":-1.25,"v":0.12},{"p":"SD","x":1.75,"t":-1,"v":0.13},{"p":"SD","x":1.75,"t":-0.75,"v":0.16},{"p":"SD","x":1.75,"t":-0.5,"v":0.2},{"p":"SD","x":1.75,"t":-0.25,"v":0.23},{"p":"SD","x":1.75,"t":0,"v":0.24},{"p":"SD","x":1.75,"t":0.25,"v":0.23},{"p":"SD","x":1.75,"t":0.5,"v":0.19},{"p":"SD","x":1.75,"t":0.75,"v":0.15},{"p":"SD","x":1.75,"t":1,"v":0.11},{"p":"SD","x":1.75,"t":1.25,"v":0.08},{"p":"SD","x":1.75,"t":1.5,"v":0.07},{"p":"SD","x":1.75,"t":1.75,"v":0.06},{"p":"SD","x":1.75,"t":2,"v":0.05},
{"p":"SD","x":2,"t":-4,"v":0.19},{"p":"SD","x":2,"t":-3.75,"v":0.22},{"p":"SD","x":2,"t":-3.5,"v":0.24},{"p":"SD","x":2,"t":-3.25,"v":0.24},{"p":"SD","x":2,"t":-3,"v":0.22},{"p":"SD","x":2,"t":-2.75,"v":0.19},{"p":"SD","x":2,"t":-2.5,"v":0.15},{"p":"SD","x":2,"t":-2.25,"v":0.12},{"p":"SD","x":2,"t":-2,"v":0.1},{"p":"SD","x":2,"t":-1.75,"v":0.09},{"p":"SD","x":2,"t":-1.5,"v":0.09},{"p":"SD","x":2,"t":-1.25,"v":0.1},{"p":"SD","x":2,"t":-1,"v":0.12},{"p":"SD","x":2,"t":-0.75,"v":0.15},{"p":"SD","x":2,"t":-0.5,"v":0.18},{"p":"SD","x":2,"t":-0.25,"v":0.2},{"p":"SD","x":2,"t":0,"v":0.2},{"p":"SD","x":2,"t":0.25,"v":0.18},{"p":"SD","x":2,"t":0.5,"v":0.15},{"p":"SD","x":2,"t":0.75,"v":0.11},{"p":"SD","x":2,"t":1,"v":0.08},{"p":"SD","x":2,"t":1.25,"v":0.07},{"p":"SD","x":2,"t":1.5,"v":0.06},{"p":"SD","x":2,"t":1.75,"v":0.05},
{"p":"SD","x":2.25,"t":-4,"v":0.22},{"p":"SD","x":2.25,"t":-3.75,"v":0.22},{"p":"SD","x":2.25,"t":-3.5,"v":0.2},{"p":"SD","x":2.25,"t":-3.25,"v":0.17},{"p":"SD","x":2.25,"t":-3,"v":0.14},{"p":"SD","x":2.25,"t":-2.75,"v":0.11},{"p":"SD","x":2.25,"t":-2.5,"v":0.09},{"p":"SD","x":2.25,"t":-2.25,"v":0.08},{"p":"SD","x":2.25,"t":-2,"v":0.08},{"p":"SD","x":2.25,"t":-1.75,"v":0.08},{"p":"SD","x":2.25,"t":-1.5,"v":0.09},{"p":"SD","x":2.25,"t":-1.25,"v":0.11},{"p":"SD","x":2.25,"t":-1,"v":0.13},{"p":"SD","x":2.25,"t":-0.75,"v":0.15},{"p":"SD","x":2.25,"t":-0.5,"v":0.17},{"p":"SD","x":2.25,"t":-0.25,"v":0.17},{"p":"SD","x":2.25,"t":0,"v":0.15},{"p":"SD","x":2.25,"t":0.25,"v":0.13},{"p":"SD","x":2.25,"t":0.5,"v":0.1},{"p":"SD","x":2.25,"t":0.75,"v":0.08},{"p":"SD","x":2.25,"t":1,"v":0.06},{"p":"SD","x":2.25,"t":1.25,"v":0.05},
{"p":"SD","x":2.5,"t":-4,"v":0.18},{"p":"SD","x":2.5,"t":-3.75,"v":0.16},{"p":"SD","x":2.5,"t":-3.5,"v":0.14},{"p":"SD","x":2.5,"t":-3.25,"v":0.11},{"p":"SD","x":2.5,"t":-3,"v":0.09},{"p":"SD","x":2.5,"t":-2.75,"v":0.08},{"p":"SD","x":2.5,"t":-2.5,"v":0.07},{"p":"SD","x":2.5,"t":-2.25,"v":0.07},{"p":"SD","x":2.5,"t":-2,"v":0.08},{"p":"SD","x":2.5,"t":-1.75,"v":0.09},{"p":"SD","x":2.5,"t":-1.5,"v":0.1},{"p":"SD","x":2.5,"t":-1.25,"v":0.12},{"p":"SD","x":2.5,"t":-1,"v":0.13},{"p":"SD","x":2.5,"t":-0.75,"v":0.14},{"p":"SD","x":2.5,"t":-0.5,"v":0.15},{"p":"SD","x":2.5,"t":-0.25,"v":0.14},{"p":"SD","x":2.5,"t":0,"v":0.13},{"p":"SD","x":2.5,"t":0.25,"v":0.11},{"p":"SD","x":2.5,"t":0.5,"v":0.09},{"p":"SD","x":2.5,"t":0.75,"v":0.07},{"p":"SD","x":2.5,"t":1,"v":0.06},{"p":"SD","x":2.5,"t":1.25,"v":0.05},
{"p":"SD","x":2.75,"t":-4,"v":0.13},{"p":"SD","x":2.75,"t":-3.75,"v":0.11},{"p":"SD","x":2.75,"t":-3.5,"v":0.09},{"p":"SD","x":2.75,"t":-3.25,"v":0.08},{"p":"SD","x":2.75,"t":-3,"v":0.07},{"p":"SD","x":2.75,"t":-2.75,"v":0.07},{"p":"SD","x":2.75,"t":-2.5,"v":0.07},{"p":"SD","x":2.75,"t":-2.25,"v":0.07},{"p":"SD","x":2.75,"t":-2,"v":0.08},{"p":"SD","x":2.75,"t":-1.75,"v":0.09},{"p":"SD","x":2.75,"t":-1.5,"v":0.1},{"p":"SD","x":2.75,"t":-1.25,"v":0.12},{"p":"SD","x":2.75,"t":-1,"v":0.13},{"p":"SD","x":2.75,"t":-0.75,"v":0.14},{"p":"SD","x":2.75,"t":-0.5,"v":0.14},{"p":"SD","x":2.75,"t":-0.25,"v":0.13},{"p":"SD","x":2.75,"t":0,"v":0.12},{"p":"SD","x":2.75,"t":0.25,"v":0.1},{"p":"SD","x":2.75,"t":0.5,"v":0.08},{"p":"SD","x":2.75,"t":0.75,"v":0.07},{"p":"SD","x":2.75,"t":1,"v":0.06},{"p":"SD","x":2.75,"t":1.25,"v":0.05},{"p":"SD","x":2.75,"t":1.5,"v":0.05},
{"p":"SD","x":3,"t":-4,"v":0.08},{"p":"SD","x":3,"t":-3.75,"v":0.07},{"p":"SD","x":3,"t":-3.5,"v":0.07},{"p":"SD","x":3,"t":-3.25,"v":0.06},{"p":"SD","x":3,"t":-3,"v":0.06},{"p":"SD","x":3,"t":-2.75,"v":0.06},{"p":"SD","x":3,"t":-2.5,"v":0.07},{"p":"SD","x":3,"t":-2.25,"v":0.07},{"p":"SD","x":3,"t":-2,"v":0.08},{"p":"SD","x":3,"t":-1.75,"v":0.09},{"p":"SD","x":3,"t":-1.5,"v":0.1},{"p":"SD","x":3,"t":-1.25,"v":0.11},{"p":"SD","x":3,"t":-1,"v":0.12},{"p":"SD","x":3,"t":-0.75,"v":0.13},{"p":"SD","x":3,"t":-0.5,"v":0.13},{"p":"SD","x":3,"t":-0.25,"v":0.12},{"p":"SD","x":3,"t":0,"v":0.11},{"p":"SD","x":3,"t":0.25,"v":0.09},{"p":"SD","x":3,"t":0.5,"v":0.08},{"p":"SD","x":3,"t":0.75,"v":0.07},{"p":"SD","x":3,"t":1,"v":0.06},{"p":"SD","x":3,"t":1.25,"v":0.06},{"p":"SD","x":3,"t":1.5,"v":0.05},{"p":"SD","x":3,"t":1.75,"v":0.05},
{"p":"SD","x":3.25,"t":-4,"v":0.04},{"p":"SD","x":3.25,"t":-3.75,"v":0.04},{"p":"SD","x":3.25,"t":-3.5,"v":0.05},{"p":"SD","x":3.25,"t":-3.25,"v":0.05},{"p":"SD","x":3.25,"t":-3,"v":0.05},{"p":"SD","x":3.25,"t":-2.75,"v":0.05},{"p":"SD","x":3.25,"t":-2.5,"v":0.06},{"p":"SD","x":3.25,"t":-2.25,"v":0.07},{"p":"SD","x":3.25,"t":-2,"v":0.08},{"p":"SD","x":3.25,"t":-1.75,"v":0.09},{"p":"SD","x":3.25,"t":-1.5,"v":0.1},{"p":"SD","x":3.25,"t":-1.25,"v":0.11},{"p":"SD","x":3.25,"t":-1,"v":0.12},{"p":"SD","x":3.25,"t":-0.75,"v":0.12},{"p":"SD","x":3.25,"t":-0.5,"v":0.12},{"p":"SD","x":3.25,"t":-0.25,"v":0.11},{"p":"SD","x":3.25,"t":0,"v":0.1},{"p":"SD","x":3.25,"t":0.25,"v":0.08},{"p":"SD","x":3.25,"t":0.5,"v":0.07},{"p":"SD","x":3.25,"t":0.75,"v":0.06},{"p":"SD","x":3.25,"t":1,"v":0.05},{"p":"SD","x":3.25,"t":1.25,"v":0.05},{"p":"SD","x":3.25,"t":1.5,"v":0.05},{"p":"SD","x":3.25,"t":1.75,"v":0.05},{"p":"SD","x":3.25,"t":2,"v":0.04},
{"p":"SD","x":3.5,"t":-4,"v":0.04},{"p":"SD","x":3.5,"t":-3.75,"v":0.04},{"p":"SD","x":3.5,"t":-3.5,"v":0.05},{"p":"SD","x":3.5,"t":-3.25,"v":0.05},{"p":"SD","x":3.5,"t":-3,"v":0.05},{"p":"SD","x":3.5,"t":-2.75,"v":0.05},{"p":"SD","x":3.5,"t":-2.5,"v":0.06},{"p":"SD","x":3.5,"t":-2.25,"v":0.07},{"p":"SD","x":3.5,"t":-2,"v":0.08},{"p":"SD","x":3.5,"t":-1.75,"v":0.09},{"p":"SD","x":3.5,"t":-1.5,"v":0.1},{"p":"SD","x":3.5,"t":-1.25,"v":0.11},{"p":"SD","x":3.5,"t":-1,"v":0.12},{"p":"SD","x":3.5,"t":-0.75,"v":0.12},{"p":"SD","x":3.5,"t":-0.5,"v":0.12},{"p":"SD","x":3.5,"t":-0.25,"v":0.11},{"p":"SD","x":3.5,"t":0,"v":0.1},{"p":"SD","x":3.5,"t":0.25,"v":0.08},{"p":"SD","x":3.5,"t":0.5,"v":0.07},{"p":"SD","x":3.5,"t":0.75,"v":0.06},{"p":"SD","x":3.5,"t":1,"v":0.05},{"p":"SD","x":3.5,"t":1.25,"v":0.05},{"p":"SD","x":3.5,"t":1.5,"v":0.05},{"p":"SD","x":3.5,"t":1.75,"v":0.05},{"p":"SD","x":3.5,"t":2,"v":0.05},{"p":"SD","x":3.5,"t":2.25,"v":0.04},
{"p":"SD","x":3.75,"t":-3.5,"v":0.04},{"p":"SD","x":3.75,"t":-3.25,"v":0.05},{"p":"SD","x":3.75,"t":-3,"v":0.05},{"p":"SD","x":3.75,"t":-2.75,"v":0.05},{"p":"SD","x":3.75,"t":-2.5,"v":0.06},{"p":"SD","x":3.75,"t":-2.25,"v":0.07},{"p":"SD","x":3.75,"t":-2,"v":0.08},{"p":"SD","x":3.75,"t":-1.75,"v":0.09},{"p":"SD","x":3.75,"t":-1.5,"v":0.1},{"p":"SD","x":3.75,"t":-1.25,"v":0.11},{"p":"SD","x":3.75,"t":-1,"v":0.12},{"p":"SD","x":3.75,"t":-0.75,"v":0.12},{"p":"SD","x":3.75,"t":-0.5,"v":0.12},{"p":"SD","x":3.75,"t":-0.25,"v":0.11},{"p":"SD","x":3.75,"t":0,"v":0.1},{"p":"SD","x":3.75,"t":0.25,"v":0.08},{"p":"SD","x":3.75,"t":0.5,"v":0.07},{"p":"SD","x":3.75,"t":0.75,"v":0.06},{"p":"SD","x":3.75,"t":1,"v":0.05},{"p":"SD","x":3.75,"t":1.25,"v":0.05},{"p":"SD","x":3.75,"t":1.5,"v":0.05},{"p":"SD","x":3.75,"t":1.75,"v":0.05},{"p":"SD","x":3.75,"t":2,"v":0.05},{"p":"SD","x":3.75,"t":2.25,"v":0.05},{"p":"SD","x":3.75,"t":2.5,"v":0.04},{"p":"SD","x":3.75,"t":2.75,"v":0.04},
{"p":"SD","x":4,"t":-3.25,"v":0.04},{"p":"SD","x":4,"t":-3,"v":0.05},{"p":"SD","x":4,"t":-2.75,"v":0.05},{"p":"SD","x":4,"t":-2.5,"v":0.06},{"p":"SD","x":4,"t":-2.25,"v":0.07},{"p":"SD","x":4,"t":-2,"v":0.08},{"p":"SD","x":4,"t":-1.75,"v":0.09},{"p":"SD","x":4,"t":-1.5,"v":0.1},{"p":"SD","x":4,"t":-1.25,"v":0.11},{"p":"SD","x":4,"t":-1,"v":0.12},{"p":"SD","x":4,"t":-0.75,"v":0.12},{"p":"SD","x":4,"t":-0.5,"v":0.12},{"p":"SD","x":4,"t":-0.25,"v":0.11},{"p":"SD","x":4,"t":0,"v":0.1},{"p":"SD","x":4,"t":0.25,"v":0.08},{"p":"SD","x":4,"t":0.5,"v":0.07},{"p":"SD","x":4,"t":0.75,"v":0.06},{"p":"SD","x":4,"t":1,"v":0.05},{"p":"SD","x":4,"t":1.25,"v":0.05},{"p":"SD","x":4,"t":1.5,"v":0.05},{"p":"SD","x":4,"t":1.75,"v":0.05},{"p":"SD","x":4,"t":2,"v":0.05},{"p":"SD","x":4,"t":2.25,"v":0.05},{"p":"SD","x":4,"t":2.5,"v":0.04},{"p":"SD","x":4,"t":2.75,"v":0.04},{"p":"SD","x":4,"t":3,"v":0.04},
{"p":"SD","x":4.25,"t":-3,"v":0.04},{"p":"SD","x":4.25,"t":-2.75,"v":0.05},{"p":"SD","x":4.25,"t":-2.5,"v":0.06},{"p":"SD","x":4.25,"t":-2.25,"v":0.07},{"p":"SD","x":4.25,"t":-2,"v":0.08},{"p":"SD","x":4.25,"t":-1.75,"v":0.09},{"p":"SD","x":4.25,"t":-1.5,"v":0.1},{"p":"SD","x":4.25,"t":-1.25,"v":0.11},{"p":"SD","x":4.25,"t":-1,"v":0.12},{"p":"SD","x":4.25,"t":-0.75,"v":0.12},{"p":"SD","x":4.25,"t":-0.5,"v":0.12},{"p":"SD","x":4.25,"t":-0.25,"v":0.11},{"p":"SD","x":4.25,"t":0,"v":0.1},{"p":"SD","x":4.25,"t":0.25,"v":0.08},{"p":"SD","x":4.25,"t":0.5,"v":0.07},{"p":"SD","x":4.25,"t":0.75,"v":0.06},{"p":"SD","x":4.25,"t":1,"v":0.05},{"p":"SD","x":4.25,"t":1.25,"v":0.05},{"p":"SD","x":4.25,"t":1.5,"v":0.05},{"p":"SD","x":4.25,"t":1.75,"v":0.05},{"p":"SD","x":4.25,"t":2,"v":0.05},{"p":"SD","x":4.25,"t":2.25,"v":0.05},{"p":"SD","x":4.25,"t":2.5,"v":0.04},{"p":"SD","x":4.25,"t":2.75,"v":0.04},{"p":"SD","x":4.25,"t":3,"v":0.04},
{"p":"SD","x":4.5,"t":-2.75,"v":0.05},{"p":"SD","x":4.5,"t":-2.5,"v":0.06},{"p":"SD","x":4.5,"t":-2.25,"v":0.07},{"p":"SD","x":4.5,"t":-2,"v":0.08},{"p":"SD","x":4.5,"t":-1.75,"v":0.09},{"p":"SD","x":4.5,"t":-1.5,"v":0.1},{"p":"SD","x":4.5,"t":-1.25,"v":0.11},{"p":"SD","x":4.5,"t":-1,"v":0.12},{"p":"SD","x":4.5,"t":-0.75,"v":0.12},{"p":"SD","x":4.5,"t":-0.5,"v":0.12},{"p":"SD","x":4.5,"t":-0.25,"v":0.11},{"p":"SD","x":4.5,"t":0,"v":0.1},{"p":"SD","x":4.5,"t":0.25,"v":0.08},{"p":"SD","x":4.5,"t":0.5,"v":0.07},{"p":"SD","x":4.5,"t":0.75,"v":0.06},{"p":"SD","x":4.5,"t":1,"v":0.05},{"p":"SD","x":4.5,"t":1.25,"v":0.05},{"p":"SD","x":4.5,"t":1.5,"v":0.05},{"p":"SD","x":4.5,"t":1.75,"v":0.05},{"p":"SD","x":4.5,"t":2,"v":0.05},{"p":"SD","x":4.5,"t":2.25,"v":0.05},{"p":"SD","x":4.5,"t":2.5,"v":0.04},{"p":"SD","x":4.5,"t":2.75,"v":0.04},{"p":"SD","x":4.5,"t":3,"v":0.04},
{"p":"SD","x":4.75,"t":-2.75,"v":0.05},{"p":"SD","x":4.75,"t":-2.5,"v":0.06},{"p":"SD","x":4.75,"t":-2.25,"v":0.07},{"p":"SD","x":4.75,"t":-2,"v":0.08},{"p":"SD","x":4.75,"t":-1.75,"v":0.09},{"p":"SD","x":4.75,"t":-1.5,"v":0.1},{"p":"SD","x":4.75,"t":-1.25,"v":0.11},{"p":"SD","x":4.75,"t":-1,"v":0.12},{"p":"SD","x":4.75,"t":-0.75,"v":0.12},{"p":"SD","x":4.75,"t":-0.5,"v":0.12},{"p":"SD","x":4.75,"t":-0.25,"v":0.11},{"p":"SD","x":4.75,"t":0,"v":0.1},{"p":"SD","x":4.75,"t":0.25,"v":0.08},{"p":"SD","x":4.75,"t":0.5,"v":0.07},{"p":"SD","x":4.75,"t":0.75,"v":0.06},{"p":"SD","x":4.75,"t":1,"v":0.05},{"p":"SD","x":4.75,"t":1.25,"v":0.05},{"p":"SD","x":4.75,"t":1.5,"v":0.05},{"p":"SD","x":4.75,"t":1.75,"v":0.05},{"p":"SD","x":4.75,"t":2,"v":0.05},{"p":"SD","x":4.75,"t":2.25,"v":0.05},{"p":"SD","x":4.75,"t":2.5,"v":0.04},{"p":"SD","x":4.75,"t":2.75,"v":0.04},{"p":"SD","x":4.75,"t":3,"v":0.04},
{"p":"SD","x":5,"t":-3,"v":0.04},{"p":"SD","x":5,"t":-2.75,"v":0.04},{"p":"SD","x":5,"t":-2.5,"v":0.05},{"p":"SD","x":5,"t":-2.25,"v":0.06},{"p":"SD","x":5,"t":-2,"v":0.07},{"p":"SD","x":5,"t":-1.75,"v":0.08},{"p":"SD","x":5,"t":-1.5,"v":0.09},{"p":"SD","x":5,"t":-1.25,"v":0.1},{"p":"SD","x":5,"t":-1,"v":0.1},{"p":"SD","x":5,"t":-0.75,"v":0.1},{"p":"SD","x":5,"t":-0.5,"v":0.1},{"p":"SD","x":5,"t":-0.25,"v":0.09},{"p":"SD","x":5,"t":0,"v":0.08},{"p":"SD","x":5,"t":0.25,"v":0.07},{"p":"SD","x":5,"t":0.5,"v":0.06},{"p":"SD","x":5,"t":0.75,"v":0.05},{"p":"SD","x":5,"t":1,"v":0.05},{"p":"SD","x":5,"t":1.25,"v":0.05},{"p":"SD","x":5,"t":1.5,"v":0.05},{"p":"SD","x":5,"t":1.75,"v":0.05},{"p":"SD","x":5,"t":2,"v":0.04},{"p":"SD","x":5,"t":2.25,"v":0.04},{"p":"SD","x":5,"t":2.5,"v":0.04},{"p":"SD","x":5,"t":2.75,"v":0.04},{"p":"SD","x":5,"t":3,"v":0.04},
{"p":"SD","x":5.25,"t":-3,"v":0.04},{"p":"SD","x":5.25,"t":-2.75,"v":0.04},{"p":"SD","x":5.25,"t":-2.5,"v":0.05},{"p":"SD","x":5.25,"t":-2.25,"v":0.06},{"p":"SD","x":5.25,"t":-2,"v":0.07},{"p":"SD","x":5.25,"t":-1.75,"v":0.08},{"p":"SD","x":5.25,"t":-1.5,"v":0.09},{"p":"SD","x":5.25,"t":-1.25,"v":0.1},{"p":"SD","x":5.25,"t":-1,"v":0.1},{"p":"SD","x":5.25,"t":-0.75,"v":0.1},{"p":"SD","x":5.25,"t":-0.5,"v":0.1},{"p":"SD","x":5.25,"t":-0.25,"v":0.09},{"p":"SD","x":5.25,"t":0,"v":0.08},{"p":"SD","x":5.25,"t":0.25,"v":0.07},{"p":"SD","x":5.25,"t":0.5,"v":0.06},{"p":"SD","x":5.25,"t":0.75,"v":0.05},{"p":"SD","x":5.25,"t":1,"v":0.05},{"p":"SD","x":5.25,"t":1.25,"v":0.05},{"p":"SD","x":5.25,"t":1.5,"v":0.05},{"p":"SD","x":5.25,"t":1.75,"v":0.05},{"p":"SD","x":5.25,"t":2,"v":0.04},{"p":"SD","x":5.25,"t":2.25,"v":0.04},{"p":"SD","x":5.25,"t":2.5,"v":0.04},{"p":"SD","x":5.25,"t":2.75,"v":0.04},{"p":"SD","x":5.25,"t":3,"v":0.04},
{"p":"SD","x":5.5,"t":-2.75,"v":0.04},{"p":"SD","x":5.5,"t":-2.5,"v":0.05},{"p":"SD","x":5.5,"t":-2.25,"v":0.06},{"p":"SD","x":5.5,"t":-2,"v":0.07},{"p":"SD","x":5.5,"t":-1.75,"v":0.08},{"p":"SD","x":5.5,"t":-1.5,"v":0.09},{"p":"SD","x":5.5,"t":-1.25,"v":0.1},{"p":"SD","x":5.5,"t":-1,"v":0.1},{"p":"SD","x":5.5,"t":-0.75,"v":0.1},{"p":"SD","x":5.5,"t":-0.5,"v":0.1},{"p":"SD","x":5.5,"t":-0.25,"v":0.09},{"p":"SD","x":5.5,"t":0,"v":0.08},{"p":"SD","x":5.5,"t":0.25,"v":0.07},{"p":"SD","x":5.5,"t":0.5,"v":0.06},{"p":"SD","x":5.5,"t":0.75,"v":0.05},{"p":"SD","x":5.5,"t":1,"v":0.05},{"p":"SD","x":5.5,"t":1.25,"v":0.05},{"p":"SD","x":5.5,"t":1.5,"v":0.05},{"p":"SD","x":5.5,"t":1.75,"v":0.04},{"p":"SD","x":5.5,"t":2,"v":0.04},{"p":"SD","x":5.5,"t":2.25,"v":0.04},{"p":"SD","x":5.5,"t":2.5,"v":0.04},{"p":"SD","x":5.5,"t":2.75,"v":0.04},
{"p":"SD","x":5.75,"t":-2.5,"v":0.04},{"p":"SD","x":5.75,"t":-2.25,"v":0.05},{"p":"SD","x":5.75,"t":-2,"v":0.06},{"p":"SD","x":5.75,"t":-1.75,"v":0.07},{"p":"SD","x":5.75,"t":-1.5,"v":0.08},{"p":"SD","x":5.75,"t":-1.25,"v":0.09},{"p":"SD","x":5.75,"t":-1,"v":0.09},{"p":"SD","x":5.75,"t":-0.75,"v":0.09},{"p":"SD","x":5.75,"t":-0.5,"v":0.09},{"p":"SD","x":5.75,"t":-0.25,"v":0.08},{"p":"SD","x":5.75,"t":0,"v":0.07},{"p":"SD","x":5.75,"t":0.25,"v":0.06},{"p":"SD","x":5.75,"t":0.5,"v":0.05},{"p":"SD","x":5.75,"t":0.75,"v":0.05},{"p":"SD","x":5.75,"t":1,"v":0.04},{"p":"SD","x":5.75,"t":1.25,"v":0.04},{"p":"SD","x":5.75,"t":1.5,"v":0.04}
]},
"facet":{"column":{"field":"p","type":"nominal","sort":["Mean","SD"],"title":"Context, 𝑐","header":{"titleOrient":"bottom","titleFontSize":25,"titleFontWeight":"normal","titleColor":"black","titlePadding":6,"labelOrient":"top","labelFontSize":19,"labelColor":"#1A1A1A","labelPadding":9}}},
"spacing":13,
"spec":{
"width":531,"height":244,
"layer":[
{"transform":[{"filter":"false"}],
"mark":{"type":"point","filled":true,"size":90,"stroke":"black","strokeWidth":0.8,"opacity":1},
"encoding":{
"x":{"field":"x","type":"quantitative","scale":{"domain":[-6,6],"nice":false,"zero":false},"axis":{"values":[-6,-3,0,3,6],"title":null}},
"y":{"field":"y","type":"quantitative","scale":{"domain":[-4,4],"nice":false,"zero":false},"axis":{"values":[-4,-2,0,2,4],"title":"Treatment","titlePadding":15}},
"color":{"field":"m","type":"nominal","scale":{"domain":["UCB","Random","Ours"],"range":["#8856A7","#E84A2F","#72C36E"]},"legend":{"title":"Method","symbolStrokeColor":"black","symbolStrokeWidth":0.8,"symbolSize":100,"labelOffset":8,"columnPadding":30,"titlePadding":24}},
"shape":{"field":"m","type":"nominal","scale":{"domain":["UCB","Random","Ours"],"range":["triangle-up","diamond","circle"]},"legend":{"title":"Method"}}
}},
{"transform":[{"filter":"isValid(datum.v)"}],
"mark":{"type":"rect"},
"encoding":{
"x":{"field":"x","type":"quantitative","bin":{"binned":true,"step":0.25},"axis":{"values":[-6,-3,0,3,6],"title":null}},
"y":{"field":"t","type":"quantitative","bin":{"binned":true,"step":0.25},"axis":{"values":[-4,-2,0,2,4],"title":"Treatment","titlePadding":15}},
"fill":{"field":"v","type":"quantitative","scale":{"domain":[0,0.64],"range":["#eff3ff","#c6dbef","#9ecae1","#6baed6","#4292c6","#2171b5","#084594"]},"legend":{"title":"y","values":[0.2,0.4,0.6],"gradientLength":140,"gradientThickness":29,"titlePadding":14,"format":".1f"}}
}},
{"transform":[{"filter":"isValid(datum.r)"}],
"mark":{"type":"rule","color":"black","strokeDash":[5,4],"strokeWidth":1.4},
"encoding":{"x":{"field":"r","type":"quantitative","axis":{"values":[-6,-3,0,3,6],"title":null}}}},
{"transform":[{"filter":"isValid(datum.m)"}],
"mark":{"type":"line","strokeWidth":1.5},
"encoding":{
"x":{"field":"x","type":"quantitative","axis":{"values":[-6,-3,0,3,6],"title":null}},
"y":{"field":"y","type":"quantitative","axis":{"values":[-4,-2,0,2,4],"title":"Treatment","titlePadding":15}},
"color":{"field":"m","type":"nominal","legend":{"title":"Method"}}
}},
{"transform":[{"filter":"isValid(datum.m)"}],
"mark":{"type":"point","filled":true,"size":75,"stroke":"black","strokeWidth":0.8,"opacity":1},
"encoding":{
"x":{"field":"x","type":"quantitative","axis":{"values":[-6,-3,0,3,6],"title":null}},
"y":{"field":"y","type":"quantitative","axis":{"values":[-4,-2,0,2,4],"title":"Treatment","titlePadding":15}},
"color":{"field":"m","type":"nominal","legend":{"title":"Method"}},
"shape":{"field":"m","type":"nominal","legend":{"title":"Method"}}
}}
]
}
}
